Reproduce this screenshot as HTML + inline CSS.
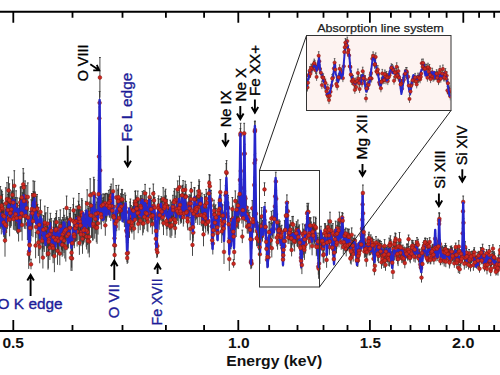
<!DOCTYPE html><html><head><meta charset="utf-8"><style>html,body{margin:0;padding:0;background:#fff;width:500px;height:375px;overflow:hidden}svg{display:block}</style></head><body><svg width="500" height="375" viewBox="0 0 500 375">
<rect width="500" height="375" fill="#fff"/>
<path d="M-1.0 190.4V221.3M-1.9 190.4h1.8M-0.6 199.9V221.4M-1.5 199.9h1.8M-0.3 200.5V228.4M-1.2 200.5h1.8M0.3 186.5V208.1M-0.6 186.5h1.8M0.7 205.4V228.8M-0.2 205.4h1.8M1.3 201.8V234.4M0.4 201.8h1.8M1.5 190.0V221.0M0.6 190.0h1.8M2.1 191.7V224.2M1.2 191.7h1.8M2.4 194.4V223.3M1.5 194.4h1.8M2.9 200.3V230.0M2.0 200.3h1.8M3.3 203.4V227.1M2.4 203.4h1.8M3.7 207.8V237.2M2.8 207.8h1.8M4.1 205.2V227.5M3.2 205.2h1.8M4.7 219.9V243.2M3.8 219.9h1.8M5.0 224.2V256.7M4.1 224.2h1.8M5.3 209.9V239.2M4.4 209.9h1.8M5.8 187.8V218.7M4.9 187.8h1.8M6.1 211.7V239.8M5.2 211.7h1.8M6.4 198.4V224.7M5.5 198.4h1.8M6.7 208.0V233.0M5.8 208.0h1.8M7.0 182.7V215.5M6.1 182.7h1.8M7.3 207.3V229.0M6.4 207.3h1.8M7.7 198.3V220.8M6.8 198.3h1.8M8.0 194.5V225.8M7.1 194.5h1.8M8.5 177.1V203.7M7.6 177.1h1.8M8.9 188.9V210.1M8.0 188.9h1.8M9.3 183.8V216.6M8.4 183.8h1.8M9.6 202.9V236.3M8.7 202.9h1.8M10.0 190.1V212.4M9.1 190.1h1.8M10.2 198.7V227.8M9.3 198.7h1.8M10.6 202.3V223.5M9.7 202.3h1.8M10.8 206.6V227.6M9.9 206.6h1.8M11.3 192.8V226.0M10.4 192.8h1.8M11.8 191.1V213.3M10.9 191.1h1.8M12.1 196.3V217.6M11.2 196.3h1.8M12.5 179.9V209.9M11.6 179.9h1.8M13.1 190.9V214.2M12.2 190.9h1.8M13.4 208.2V229.8M12.5 208.2h1.8M13.9 186.8V218.6M13.0 186.8h1.8M14.3 170.7V200.9M13.4 170.7h1.8M14.7 200.4V230.4M13.8 200.4h1.8M15.3 199.3V226.1M14.4 199.3h1.8M15.7 197.6V230.7M14.8 197.6h1.8M16.1 190.8V220.8M15.2 190.8h1.8M16.6 203.4V232.6M15.7 203.4h1.8M17.2 197.8V229.1M16.3 197.8h1.8M17.6 203.9V234.1M16.7 203.9h1.8M18.1 209.9V233.0M17.2 209.9h1.8M18.6 219.7V241.5M17.7 219.7h1.8M19.1 205.5V231.2M18.2 205.5h1.8M19.5 198.2V227.7M18.6 198.2h1.8M19.8 201.8V224.6M18.9 201.8h1.8M20.1 203.1V232.2M19.2 203.1h1.8M20.4 187.8V216.8M19.5 187.8h1.8M20.7 186.7V217.6M19.8 186.7h1.8M21.2 199.0V231.9M20.3 199.0h1.8M21.5 201.0V225.7M20.6 201.0h1.8M21.8 186.6V208.3M20.9 186.6h1.8M22.1 209.2V240.6M21.2 209.2h1.8M22.6 192.7V217.9M21.7 192.7h1.8M23.2 168.6V200.1M22.3 168.6h1.8M23.7 173.1V201.7M22.8 173.1h1.8M24.0 184.9V217.1M23.1 184.9h1.8M24.4 203.0V228.8M23.5 203.0h1.8M24.7 185.8V218.1M23.8 185.8h1.8M25.1 180.9V212.1M24.2 180.9h1.8M25.4 197.8V222.1M24.5 197.8h1.8M25.8 202.8V229.1M24.9 202.8h1.8M26.2 185.7V217.9M25.3 185.7h1.8M26.8 197.4V218.9M25.9 197.4h1.8M27.4 208.1V240.0M26.5 208.1h1.8M27.8 182.9V211.1M26.9 182.9h1.8M28.1 202.0V233.2M27.2 202.0h1.8M28.7 239.3V268.9M27.8 239.3h1.8M29.1 240.4V262.4M28.2 240.4h1.8M29.5 230.7V258.7M28.6 230.7h1.8M29.7 230.2V260.7M28.8 230.2h1.8M30.1 211.5V244.3M29.2 211.5h1.8M30.5 211.0V240.6M29.6 211.0h1.8M30.9 214.5V241.4M30.0 214.5h1.8M31.3 199.8V230.3M30.4 199.8h1.8M31.7 205.0V236.0M30.8 205.0h1.8M31.9 193.5V224.6M31.0 193.5h1.8M32.3 197.9V228.6M31.4 197.9h1.8M32.6 195.7V228.0M31.7 195.7h1.8M33.0 205.1V237.2M32.1 205.1h1.8M33.2 180.9V209.4M32.3 180.9h1.8M33.5 191.6V214.9M32.6 191.6h1.8M33.8 192.8V222.6M32.9 192.8h1.8M34.2 197.0V222.6M33.3 197.0h1.8M34.6 181.3V208.9M33.7 181.3h1.8M35.1 192.0V214.9M34.2 192.0h1.8M35.6 232.6V258.3M34.7 232.6h1.8M36.0 215.7V238.0M35.1 215.7h1.8M36.5 196.6V219.6M35.6 196.6h1.8M37.1 194.5V223.0M36.2 194.5h1.8M37.5 204.6V225.8M36.6 204.6h1.8M37.9 221.5V242.9M37.0 221.5h1.8M38.4 228.9V256.0M37.5 228.9h1.8M38.8 207.3V235.5M37.9 207.3h1.8M39.3 211.6V238.0M38.4 211.6h1.8M39.7 230.3V263.3M38.8 230.3h1.8M40.0 216.8V249.9M39.1 216.8h1.8M40.5 199.9V224.1M39.6 199.9h1.8M41.1 221.2V244.5M40.2 221.2h1.8M41.6 214.2V236.3M40.7 214.2h1.8M42.1 225.0V256.9M41.2 225.0h1.8M42.6 224.9V251.7M41.7 224.9h1.8M42.9 246.7V268.5M42.0 246.7h1.8M43.3 215.5V244.0M42.4 215.5h1.8M43.8 216.3V249.4M42.9 216.3h1.8M44.3 227.7V252.0M43.4 227.7h1.8M44.8 206.1V239.2M43.9 206.1h1.8M45.4 213.8V243.3M44.5 213.8h1.8M45.8 212.8V235.8M44.9 212.8h1.8M46.4 223.7V256.9M45.5 223.7h1.8M46.9 231.2V252.7M46.0 231.2h1.8M47.4 223.8V248.0M46.5 223.8h1.8M47.7 207.5V239.9M46.8 207.5h1.8M48.0 238.2V269.7M47.1 238.2h1.8M48.3 238.5V268.4M47.4 238.5h1.8M48.6 227.1V256.3M47.7 227.1h1.8M48.9 228.1V251.0M48.0 228.1h1.8M49.5 219.2V249.8M48.6 219.2h1.8M49.9 235.3V260.0M49.0 235.3h1.8M50.4 213.3V241.8M49.5 213.3h1.8M50.9 222.0V247.0M50.0 222.0h1.8M51.3 218.6V242.8M50.4 218.6h1.8M51.8 233.0V256.1M50.9 233.0h1.8M52.0 232.5V256.5M51.1 232.5h1.8M52.5 235.2V256.3M51.6 235.2h1.8M53.1 233.1V263.2M52.2 233.1h1.8M53.5 220.9V253.6M52.6 220.9h1.8M53.9 227.4V251.2M53.0 227.4h1.8M54.4 240.0V272.2M53.5 240.0h1.8M54.7 218.8V241.6M53.8 218.8h1.8M55.2 218.6V251.3M54.3 218.6h1.8M55.5 224.1V255.7M54.6 224.1h1.8M55.8 217.6V242.9M54.9 217.6h1.8M56.1 213.5V244.9M55.2 213.5h1.8M56.6 210.9V233.6M55.7 210.9h1.8M57.0 226.2V250.0M56.1 226.2h1.8M57.5 236.8V264.8M56.6 236.8h1.8M58.1 229.6V252.4M57.2 229.6h1.8M58.5 227.4V253.6M57.6 227.4h1.8M58.9 217.6V240.5M58.0 217.6h1.8M59.3 219.2V244.5M58.4 219.2h1.8M59.8 242.0V265.2M58.9 242.0h1.8M60.3 209.9V242.3M59.4 209.9h1.8M60.8 224.3V246.7M59.9 224.3h1.8M61.2 222.3V254.6M60.3 222.3h1.8M61.5 219.9V249.3M60.6 219.9h1.8M61.8 225.4V250.0M60.9 225.4h1.8M62.2 232.6V256.8M61.3 232.6h1.8M62.7 217.5V251.0M61.8 217.5h1.8M63.0 222.2V255.7M62.1 222.2h1.8M63.5 219.6V244.3M62.6 219.6h1.8M63.7 208.6V240.9M62.8 208.6h1.8M64.0 228.4V253.0M63.1 228.4h1.8M64.3 215.3V248.7M63.4 215.3h1.8M64.8 233.2V258.5M63.9 233.2h1.8M65.3 219.0V241.7M64.4 219.0h1.8M65.8 234.0V261.6M64.9 234.0h1.8M66.2 217.7V241.1M65.3 217.7h1.8M66.6 196.0V219.8M65.7 196.0h1.8M67.0 222.0V250.2M66.1 222.0h1.8M67.4 216.8V247.6M66.5 216.8h1.8M67.7 218.5V248.4M66.8 218.5h1.8M68.3 219.9V242.0M67.4 219.9h1.8M68.6 219.7V248.4M67.7 219.7h1.8M69.2 209.5V233.1M68.3 209.5h1.8M69.8 213.5V242.3M68.9 213.5h1.8M70.0 213.5V241.8M69.1 213.5h1.8M70.4 207.5V231.1M69.5 207.5h1.8M71.0 244.8V270.9M70.1 244.8h1.8M71.6 237.6V267.7M70.7 237.6h1.8M72.0 245.8V271.0M71.1 245.8h1.8M72.3 227.4V259.0M71.4 227.4h1.8M72.6 230.0V251.2M71.7 230.0h1.8M73.2 204.7V237.2M72.3 204.7h1.8M73.5 198.2V222.5M72.6 198.2h1.8M74.0 222.7V246.0M73.1 222.7h1.8M74.3 225.2V248.2M73.4 225.2h1.8M74.7 209.8V235.5M73.8 209.8h1.8M75.3 214.5V242.1M74.4 214.5h1.8M75.6 214.3V240.9M74.7 214.3h1.8M76.1 206.3V236.3M75.2 206.3h1.8M76.6 209.9V241.2M75.7 209.9h1.8M77.1 216.6V246.5M76.2 216.6h1.8M77.6 205.9V231.7M76.7 205.9h1.8M78.0 207.9V239.9M77.1 207.9h1.8M78.5 201.2V234.2M77.6 201.2h1.8M78.9 193.5V221.2M78.0 193.5h1.8M79.2 204.7V232.5M78.3 204.7h1.8M79.4 231.1V254.9M78.5 231.1h1.8M79.9 209.8V233.1M79.0 209.8h1.8M80.3 209.9V241.2M79.4 209.9h1.8M80.6 214.5V235.9M79.7 214.5h1.8M80.9 222.7V246.2M80.0 222.7h1.8M81.3 221.2V242.4M80.4 221.2h1.8M81.7 198.7V226.3M80.8 198.7h1.8M82.2 200.2V230.1M81.3 200.2h1.8M82.5 223.7V253.8M81.6 223.7h1.8M83.0 223.7V245.2M82.1 223.7h1.8M83.5 216.6V243.9M82.6 216.6h1.8M83.8 217.6V242.2M82.9 217.6h1.8M84.4 217.5V240.2M83.5 217.5h1.8M84.9 214.2V242.6M84.0 214.2h1.8M85.4 210.6V238.8M84.5 210.6h1.8M85.8 201.4V231.8M84.9 201.4h1.8M86.2 213.9V246.7M85.3 213.9h1.8M86.6 223.6V249.5M85.7 223.6h1.8M87.2 189.8V217.4M86.3 189.8h1.8M87.6 219.0V245.0M86.7 219.0h1.8M88.0 228.3V253.6M87.1 228.3h1.8M88.4 208.6V232.6M87.5 208.6h1.8M88.7 206.6V239.9M87.8 206.6h1.8M89.0 221.3V252.4M88.1 221.3h1.8M89.3 225.7V257.4M88.4 225.7h1.8M89.8 202.0V223.7M88.9 202.0h1.8M90.2 178.8V211.6M89.3 178.8h1.8M90.8 203.4V227.6M89.9 203.4h1.8M91.1 192.8V218.4M90.2 192.8h1.8M91.4 210.3V238.0M90.5 210.3h1.8M91.9 210.0V237.4M91.0 210.0h1.8M92.2 205.3V226.6M91.3 205.3h1.8M92.6 209.9V240.7M91.7 209.9h1.8M93.2 207.6V240.4M92.3 207.6h1.8M93.7 177.3V209.4M92.8 177.3h1.8M94.3 179.7V211.8M93.4 179.7h1.8M94.7 214.4V238.7M93.8 214.4h1.8M95.3 204.2V233.7M94.4 204.2h1.8M95.9 197.6V230.2M95.0 197.6h1.8M96.3 213.5V242.3M95.4 213.5h1.8M96.8 202.1V228.6M95.9 202.1h1.8M97.1 210.9V243.9M96.2 210.9h1.8M97.6 198.6V227.7M96.7 198.6h1.8M98.0 212.0V234.6M97.1 212.0h1.8M98.5 180.4V207.8M97.6 180.4h1.8M99.0 144.4V168.8M98.1 144.4h1.8M99.3 106.9V129.8M98.4 106.9h1.8M99.6 91.5V114.1M98.7 91.5h1.8M100.2 160.6V180.1M99.3 160.6h1.8M100.5 195.1V213.5M99.6 195.1h1.8M100.9 203.7V224.6M100.0 203.7h1.8M101.3 205.5V229.2M100.4 205.5h1.8M101.6 194.8V216.7M100.7 194.8h1.8M102.1 198.2V215.8M101.2 198.2h1.8M102.7 200.8V221.7M101.8 200.8h1.8M103.1 193.9V215.5M102.2 193.9h1.8M103.5 197.4V215.4M102.6 197.4h1.8M103.9 205.5V223.3M103.0 205.5h1.8M104.3 194.4V215.7M103.4 194.4h1.8M104.7 204.2V220.1M103.8 204.2h1.8M105.0 194.1V212.1M104.1 194.1h1.8M105.3 214.8V235.8M104.4 214.8h1.8M105.7 193.4V218.4M104.8 193.4h1.8M106.2 203.3V221.9M105.3 203.3h1.8M106.6 204.3V220.7M105.7 204.3h1.8M107.0 193.4V217.4M106.1 193.4h1.8M107.5 194.5V213.9M106.6 194.5h1.8M108.1 194.7V214.6M107.2 194.7h1.8M108.5 195.9V213.7M107.6 195.9h1.8M108.8 190.4V215.2M107.9 190.4h1.8M109.2 198.4V217.3M108.3 198.4h1.8M109.4 195.4V214.4M108.5 195.4h1.8M109.8 194.2V217.9M108.9 194.2h1.8M110.1 189.4V212.9M109.2 189.4h1.8M110.4 186.6V209.4M109.5 186.6h1.8M110.8 198.1V221.0M109.9 198.1h1.8M111.2 184.1V206.6M110.3 184.1h1.8M111.8 194.0V218.4M110.9 194.0h1.8M112.3 202.7V218.5M111.4 202.7h1.8M112.7 195.9V218.8M111.8 195.9h1.8M113.1 178.9V203.8M112.2 178.9h1.8M113.5 205.4V226.6M112.6 205.4h1.8M113.9 205.5V229.5M113.0 205.5h1.8M114.3 234.4V255.9M113.4 234.4h1.8M114.5 228.2V248.3M113.6 228.2h1.8M114.9 234.1V256.7M114.0 234.1h1.8M115.5 213.1V234.1M114.6 213.1h1.8M115.8 216.8V236.2M114.9 216.8h1.8M116.2 185.5V209.3M115.3 185.5h1.8M116.7 210.8V231.2M115.8 210.8h1.8M117.2 197.1V215.8M116.3 197.1h1.8M117.5 203.1V220.2M116.6 203.1h1.8M117.9 190.3V206.9M117.0 190.3h1.8M118.2 189.1V213.6M117.3 189.1h1.8M118.6 185.3V209.0M117.7 185.3h1.8M119.0 205.6V230.4M118.1 205.6h1.8M119.6 196.7V221.1M118.7 196.7h1.8M120.2 202.0V217.8M119.3 202.0h1.8M120.7 200.4V220.8M119.8 200.4h1.8M121.0 193.8V218.2M120.1 193.8h1.8M121.2 194.1V219.3M120.3 194.1h1.8M121.7 189.4V210.0M120.8 189.4h1.8M122.3 189.6V209.0M121.4 189.6h1.8M122.7 200.5V219.7M121.8 200.5h1.8M123.2 194.6V219.3M122.3 194.6h1.8M123.4 199.3V221.5M122.5 199.3h1.8M123.8 203.7V223.0M122.9 203.7h1.8M124.4 207.6V227.1M123.5 207.6h1.8M124.9 193.0V217.1M124.0 193.0h1.8M125.5 195.2V220.0M124.6 195.2h1.8M126.1 201.3V223.0M125.2 201.3h1.8M126.4 217.8V242.9M125.5 217.8h1.8M126.7 220.0V243.5M125.8 220.0h1.8M127.0 244.7V262.1M126.1 244.7h1.8M127.4 224.5V248.0M126.5 224.5h1.8M127.9 242.5V263.0M127.0 242.5h1.8M128.5 219.3V241.6M127.6 219.3h1.8M129.0 210.2V233.7M128.1 210.2h1.8M129.5 218.2V237.9M128.6 218.2h1.8M130.0 202.0V219.2M129.1 202.0h1.8M130.4 199.0V219.6M129.5 199.0h1.8M130.8 212.2V229.7M129.9 212.2h1.8M131.1 205.6V227.1M130.2 205.6h1.8M131.6 213.1V232.2M130.7 213.1h1.8M131.9 217.3V233.5M131.0 217.3h1.8M132.5 206.7V226.3M131.6 206.7h1.8M133.0 209.6V231.9M132.1 209.6h1.8M133.4 202.8V218.6M132.5 202.8h1.8M133.6 200.1V221.3M132.7 200.1h1.8M134.0 217.6V239.7M133.1 217.6h1.8M134.5 204.4V225.4M133.6 204.4h1.8M135.0 210.6V228.9M134.1 210.6h1.8M135.2 191.5V216.7M134.3 191.5h1.8M135.5 190.8V211.9M134.6 190.8h1.8M136.0 195.9V213.1M135.1 195.9h1.8M136.4 197.3V220.2M135.5 197.3h1.8M136.8 200.1V217.4M135.9 200.1h1.8M137.1 198.8V219.5M136.2 198.8h1.8M137.6 201.5V224.8M136.7 201.5h1.8M137.8 191.0V207.3M136.9 191.0h1.8M138.2 214.4V233.2M137.3 214.4h1.8M138.6 201.2V223.7M137.7 201.2h1.8M139.2 199.9V218.1M138.3 199.9h1.8M139.7 207.5V224.2M138.8 207.5h1.8M140.2 211.2V230.2M139.3 211.2h1.8M140.6 196.0V216.0M139.7 196.0h1.8M141.0 195.7V219.9M140.1 195.7h1.8M141.3 198.0V219.3M140.4 198.0h1.8M141.9 199.3V220.9M141.0 199.3h1.8M142.4 191.4V209.5M141.5 191.4h1.8M142.7 211.6V235.4M141.8 211.6h1.8M143.0 203.6V222.3M142.1 203.6h1.8M143.4 214.1V232.7M142.5 214.1h1.8M143.9 190.7V212.1M143.0 190.7h1.8M144.3 204.6V229.3M143.4 204.6h1.8M144.7 194.6V212.6M143.8 194.6h1.8M145.1 184.4V202.2M144.2 184.4h1.8M145.7 203.4V222.1M144.8 203.4h1.8M146.0 201.4V224.7M145.1 201.4h1.8M146.3 192.5V210.5M145.4 192.5h1.8M146.7 204.8V222.4M145.8 204.8h1.8M147.1 206.1V231.0M146.2 206.1h1.8M147.6 200.8V217.7M146.7 200.8h1.8M147.9 211.4V232.2M147.0 211.4h1.8M148.4 197.2V213.5M147.5 197.2h1.8M148.9 204.6V221.5M148.0 204.6h1.8M149.3 198.9V217.0M148.4 198.9h1.8M149.7 188.3V205.9M148.8 188.3h1.8M150.2 198.8V214.8M149.3 198.8h1.8M150.6 205.4V227.4M149.7 205.4h1.8M151.1 198.0V220.5M150.2 198.0h1.8M151.5 207.4V224.0M150.6 207.4h1.8M151.8 200.5V217.5M150.9 200.5h1.8M152.3 214.2V234.2M151.4 214.2h1.8M152.7 206.8V224.0M151.8 206.8h1.8M153.3 184.0V203.1M152.4 184.0h1.8M153.7 193.3V218.1M152.8 193.3h1.8M154.0 191.5V209.3M153.1 191.5h1.8M154.3 209.3V227.2M153.4 209.3h1.8M154.7 197.6V217.6M153.8 197.6h1.8M155.2 213.8V232.0M154.3 213.8h1.8M155.8 226.7V250.9M154.9 226.7h1.8M156.1 221.9V240.0M155.2 221.9h1.8M156.5 232.9V254.4M155.6 232.9h1.8M156.8 241.1V258.1M155.9 241.1h1.8M157.4 235.8V256.4M156.5 235.8h1.8M157.7 204.8V227.8M156.8 204.8h1.8M158.0 204.0V223.4M157.1 204.0h1.8M158.2 198.7V217.4M157.3 198.7h1.8M158.6 195.9V215.4M157.7 195.9h1.8M159.2 206.0V229.8M158.3 206.0h1.8M159.7 205.8V224.6M158.8 205.8h1.8M160.2 199.3V220.4M159.3 199.3h1.8M160.8 198.7V217.9M159.9 198.7h1.8M161.4 196.7V213.0M160.5 196.7h1.8M161.8 202.2V220.9M160.9 202.2h1.8M162.1 201.5V224.1M161.2 201.5h1.8M162.7 208.2V226.6M161.8 208.2h1.8M163.2 187.7V210.8M162.3 187.7h1.8M163.5 211.1V235.1M162.6 211.1h1.8M163.9 205.7V224.1M163.0 205.7h1.8M164.3 200.2V216.3M163.4 200.2h1.8M164.7 196.9V216.0M163.8 196.9h1.8M165.1 191.0V210.6M164.2 191.0h1.8M165.4 195.7V213.8M164.5 195.7h1.8M165.6 189.2V212.9M164.7 189.2h1.8M166.0 196.0V213.5M165.1 196.0h1.8M166.3 212.6V229.4M165.4 212.6h1.8M166.9 213.3V235.8M166.0 213.3h1.8M167.2 199.3V215.4M166.3 199.3h1.8M167.8 211.4V229.0M166.9 211.4h1.8M168.1 208.3V226.9M167.2 208.3h1.8M168.5 204.9V223.6M167.6 204.9h1.8M169.0 205.2V227.0M168.1 205.2h1.8M169.6 209.2V230.3M168.7 209.2h1.8M170.0 214.8V237.3M169.1 214.8h1.8M170.3 200.2V222.4M169.4 200.2h1.8M170.7 210.4V229.5M169.8 210.4h1.8M171.0 215.0V238.1M170.1 215.0h1.8M171.6 201.9V220.4M170.7 201.9h1.8M171.9 214.4V235.8M171.0 214.4h1.8M172.3 204.8V221.0M171.4 204.8h1.8M172.9 195.3V218.6M172.0 195.3h1.8M173.1 201.1V218.8M172.2 201.1h1.8M173.5 210.5V227.1M172.6 210.5h1.8M174.1 191.2V213.5M173.2 191.2h1.8M174.6 188.7V212.2M173.7 188.7h1.8M174.8 210.5V228.9M173.9 210.5h1.8M175.1 218.2V238.0M174.2 218.2h1.8M175.4 210.1V234.6M174.5 210.1h1.8M176.0 196.0V219.6M175.1 196.0h1.8M176.3 189.1V210.8M175.4 189.1h1.8M176.8 197.9V220.3M175.9 197.9h1.8M177.4 201.4V221.1M176.5 201.4h1.8M177.7 180.9V197.8M176.8 180.9h1.8M178.1 192.2V215.1M177.2 192.2h1.8M178.7 201.5V224.9M177.8 201.5h1.8M179.1 199.0V217.2M178.2 199.0h1.8M179.5 176.2V198.0M178.6 176.2h1.8M180.0 194.6V215.5M179.1 194.6h1.8M180.3 201.6V220.8M179.4 201.6h1.8M180.7 204.2V223.8M179.8 204.2h1.8M180.9 204.7V221.8M180.0 204.7h1.8M181.5 200.4V222.9M180.6 200.4h1.8M182.0 186.3V204.3M181.1 186.3h1.8M182.5 185.3V205.9M181.6 185.3h1.8M183.1 180.6V199.7M182.2 180.6h1.8M183.3 208.0V226.6M182.4 208.0h1.8M183.7 202.8V223.9M182.8 202.8h1.8M184.1 194.2V213.1M183.2 194.2h1.8M184.7 194.1V217.1M183.8 194.1h1.8M185.2 181.2V198.5M184.3 181.2h1.8M185.6 186.9V207.0M184.7 186.9h1.8M186.0 184.8V207.8M185.1 184.8h1.8M186.4 203.4V221.9M185.5 203.4h1.8M186.8 202.0V221.2M185.9 202.0h1.8M187.4 209.1V227.5M186.5 209.1h1.8M187.7 212.7V230.3M186.8 212.7h1.8M188.2 205.5V222.3M187.3 205.5h1.8M188.7 196.6V215.4M187.8 196.6h1.8M189.3 194.8V212.1M188.4 194.8h1.8M189.8 200.1V216.5M188.9 200.1h1.8M190.2 217.5V240.3M189.3 217.5h1.8M190.6 195.3V211.8M189.7 195.3h1.8M191.0 188.6V209.7M190.1 188.6h1.8M191.3 182.3V199.1M190.4 182.3h1.8M191.9 202.0V219.6M191.0 202.0h1.8M192.1 213.0V233.9M191.2 213.0h1.8M192.5 234.0V255.9M191.6 234.0h1.8M193.0 216.4V238.1M192.1 216.4h1.8M193.3 223.5V241.6M192.4 223.5h1.8M193.6 204.6V222.7M192.7 204.6h1.8M193.9 204.5V227.6M193.0 204.5h1.8M194.3 187.6V211.3M193.4 187.6h1.8M194.7 187.8V209.6M193.8 187.8h1.8M195.3 196.7V220.5M194.4 196.7h1.8M195.8 199.8V223.0M194.9 199.8h1.8M196.4 195.8V219.4M195.5 195.8h1.8M196.8 200.6V218.1M195.9 200.6h1.8M197.0 190.7V214.3M196.1 190.7h1.8M197.3 195.8V216.7M196.4 195.8h1.8M197.7 205.7V224.9M196.8 205.7h1.8M198.2 199.2V215.3M197.3 199.2h1.8M198.6 185.5V206.6M197.7 185.5h1.8M199.0 179.9V202.3M198.1 179.9h1.8M199.4 181.5V205.8M198.5 181.5h1.8M199.8 204.5V225.0M198.9 204.5h1.8M200.3 195.2V212.4M199.4 195.2h1.8M200.8 196.6V213.1M199.9 196.6h1.8M201.4 204.1V226.3M200.5 204.1h1.8M201.9 193.1V218.0M201.0 193.1h1.8M202.2 197.8V214.4M201.3 197.8h1.8M202.7 213.4V231.0M201.8 213.4h1.8M203.1 207.8V230.4M202.2 207.8h1.8M203.5 222.5V246.3M202.6 222.5h1.8M203.9 204.5V227.7M203.0 204.5h1.8M204.4 194.6V216.6M203.5 194.6h1.8M204.7 203.9V224.5M203.8 203.9h1.8M205.0 196.6V216.5M204.1 196.6h1.8M205.4 207.0V229.1M204.5 207.0h1.8M205.7 215.4V232.7M204.8 215.4h1.8M206.2 189.4V208.0M205.3 189.4h1.8M206.7 193.4V212.5M205.8 193.4h1.8M207.1 207.8V225.4M206.2 207.8h1.8M207.5 211.1V231.2M206.6 211.1h1.8M208.1 209.7V234.6M207.2 209.7h1.8M208.5 208.4V233.4M207.6 208.4h1.8M208.8 181.0V205.9M207.9 181.0h1.8M209.3 174.7V191.1M208.4 174.7h1.8M209.8 175.1V197.3M208.9 175.1h1.8M210.4 190.2V211.3M209.5 190.2h1.8M210.7 193.3V218.1M209.8 193.3h1.8M211.1 190.4V209.0M210.2 190.4h1.8M211.7 216.8V235.8M210.8 216.8h1.8M212.2 231.5V249.0M211.3 231.5h1.8M212.8 232.3V254.5M211.9 232.3h1.8M213.0 223.8V245.8M212.1 223.8h1.8M213.4 220.5V239.8M212.5 220.5h1.8M213.7 204.1V224.8M212.8 204.1h1.8M214.0 200.2V221.3M213.1 200.2h1.8M214.6 206.0V223.5M213.7 206.0h1.8M215.0 210.6V234.8M214.1 210.6h1.8M215.6 204.9V228.8M214.7 204.9h1.8M216.0 208.4V226.6M215.1 208.4h1.8M216.5 215.0V233.1M215.6 215.0h1.8M217.0 220.1V240.4M216.1 220.1h1.8M217.3 216.8V238.0M216.4 216.8h1.8M217.8 224.5V241.3M216.9 224.5h1.8M218.4 202.3V218.8M217.5 202.3h1.8M218.7 203.8V223.4M217.8 203.8h1.8M219.1 203.2V227.1M218.2 203.2h1.8M219.6 198.2V219.2M218.7 198.2h1.8M219.9 191.8V208.6M219.0 191.8h1.8M220.3 179.6V204.7M219.4 179.6h1.8M220.6 194.5V218.1M219.7 194.5h1.8M220.9 195.4V214.9M220.0 195.4h1.8M221.3 210.1V231.2M220.4 210.1h1.8M221.7 219.9V243.0M220.8 219.9h1.8M222.2 215.8V232.1M221.3 215.8h1.8M222.5 217.3V235.3M221.6 217.3h1.8M222.8 204.9V226.3M221.9 204.9h1.8M223.2 212.7V230.5M222.3 212.7h1.8M223.6 218.6V238.4M222.7 218.6h1.8M224.0 239.8V264.0M223.1 239.8h1.8M224.3 211.0V232.1M223.4 211.0h1.8M224.6 202.2V226.6M223.7 202.2h1.8M225.2 202.2V225.0M224.3 202.2h1.8M225.6 185.7V204.7M224.7 185.7h1.8M225.9 180.8V204.4M225.0 180.8h1.8M226.2 163.6V180.5M225.3 163.6h1.8M226.6 160.6V185.3M225.7 160.6h1.8M227.0 191.7V214.3M226.1 191.7h1.8M227.5 208.1V224.8M226.6 208.1h1.8M227.8 197.5V218.5M226.9 197.5h1.8M228.1 195.4V219.9M227.2 195.4h1.8M228.6 213.1V235.2M227.7 213.1h1.8M228.9 231.5V251.5M228.0 231.5h1.8M229.3 247.3V270.9M228.4 247.3h1.8M229.7 230.2V246.2M228.8 230.2h1.8M230.2 218.4V235.2M229.3 218.4h1.8M230.6 228.0V249.0M229.7 228.0h1.8M231.0 230.9V249.4M230.1 230.9h1.8M231.4 224.9V242.0M230.5 224.9h1.8M231.8 208.3V232.3M230.9 208.3h1.8M232.4 197.5V220.8M231.5 197.5h1.8M233.0 206.1V230.8M232.1 206.1h1.8M233.3 223.1V240.3M232.4 223.1h1.8M233.7 226.3V246.8M232.8 226.3h1.8M234.2 243.9V260.0M233.3 243.9h1.8M234.5 211.4V228.8M233.6 211.4h1.8M234.7 216.6V236.1M233.8 216.6h1.8M235.3 190.9V211.1M234.4 190.9h1.8M235.7 210.7V230.2M234.8 210.7h1.8M236.2 213.0V237.0M235.3 213.0h1.8M236.6 200.1V219.0M235.7 200.1h1.8M237.2 201.1V218.9M236.3 201.1h1.8M237.6 212.3V228.5M236.7 212.3h1.8M237.9 196.7V214.1M237.0 196.7h1.8M238.2 195.8V217.0M237.3 195.8h1.8M238.6 209.7V229.1M237.7 209.7h1.8M239.1 201.8V223.0M238.2 201.8h1.8M239.7 184.5V203.5M238.8 184.5h1.8M239.9 167.4V192.4M239.0 167.4h1.8M240.4 128.6V141.7M239.5 128.6h1.8M240.8 163.6V178.4M239.9 163.6h1.8M241.2 200.1V214.9M240.3 200.1h1.8M241.5 200.9V218.0M240.6 200.9h1.8M241.9 206.8V223.6M241.0 206.8h1.8M242.3 230.1V243.1M241.4 230.1h1.8M242.9 201.7V218.7M242.0 201.7h1.8M243.2 208.8V227.5M242.3 208.8h1.8M243.6 179.3V196.9M242.7 179.3h1.8M244.1 146.6V161.5M243.2 146.6h1.8M244.7 144.2V163.1M243.8 144.2h1.8M245.0 188.0V206.0M244.1 188.0h1.8M245.3 191.0V206.0M244.4 191.0h1.8M245.9 211.2V227.9M245.0 211.2h1.8M246.5 198.8V216.4M245.6 198.8h1.8M246.9 206.3V222.1M246.0 206.3h1.8M247.2 220.2V233.4M246.3 220.2h1.8M247.7 206.7V227.1M246.8 206.7h1.8M248.1 217.5V233.9M247.2 217.5h1.8M248.7 210.1V224.7M247.8 210.1h1.8M249.2 217.5V232.9M248.3 217.5h1.8M249.7 212.6V232.0M248.8 212.6h1.8M250.0 221.7V237.9M249.1 221.7h1.8M250.5 231.7V246.7M249.6 231.7h1.8M250.9 255.1V269.2M250.0 255.1h1.8M251.2 253.3V268.5M250.3 253.3h1.8M251.8 230.4V248.7M250.9 230.4h1.8M252.3 200.6V216.0M251.4 200.6h1.8M252.7 209.1V228.9M251.8 209.1h1.8M253.0 214.9V229.1M252.1 214.9h1.8M253.4 214.8V232.0M252.5 214.8h1.8M253.8 214.3V233.0M252.9 214.3h1.8M254.2 177.0V193.0M253.3 177.0h1.8M254.5 154.9V171.3M253.6 154.9h1.8M254.8 121.6V141.3M253.9 121.6h1.8M255.3 153.4V166.3M254.4 153.4h1.8M255.9 206.7V220.7M255.0 206.7h1.8M256.1 218.7V233.1M255.2 218.7h1.8M256.6 230.4V246.3M255.7 230.4h1.8M257.1 221.2V240.5M256.2 221.2h1.8M257.4 228.3V246.0M256.5 228.3h1.8M257.9 222.3V242.4M257.0 222.3h1.8M258.2 230.9V248.3M257.3 230.9h1.8M258.7 230.7V250.1M257.8 230.7h1.8M259.1 233.7V249.1M258.2 233.7h1.8M259.6 238.7V255.6M258.7 238.7h1.8M259.9 244.5V263.9M259.0 244.5h1.8M260.3 228.8V243.2M259.4 228.8h1.8M260.8 218.5V233.7M259.9 218.5h1.8M261.2 223.7V239.5M260.3 223.7h1.8M261.7 207.5V225.4M260.8 207.5h1.8M262.1 222.2V238.1M261.2 222.2h1.8M262.5 228.4V241.5M261.6 228.4h1.8M262.7 220.5V237.1M261.8 220.5h1.8M263.2 220.7V238.0M262.3 220.7h1.8M263.6 216.5V229.4M262.7 216.5h1.8M264.0 214.3V234.1M263.1 214.3h1.8M264.5 182.8V196.0M263.6 182.8h1.8M265.0 202.5V220.0M264.1 202.5h1.8M265.4 220.2V233.7M264.5 220.2h1.8M265.7 219.9V233.9M264.8 219.9h1.8M266.1 235.1V248.5M265.2 235.1h1.8M266.4 239.4V258.3M265.5 239.4h1.8M266.7 230.0V247.3M265.8 230.0h1.8M267.1 251.2V268.2M266.2 251.2h1.8M267.4 249.4V264.7M266.5 249.4h1.8M267.8 245.2V263.6M266.9 245.2h1.8M268.2 242.6V261.1M267.3 242.6h1.8M268.5 247.9V266.6M267.6 247.9h1.8M269.0 222.1V242.4M268.1 222.1h1.8M269.2 238.5V254.8M268.3 238.5h1.8M269.8 221.8V241.7M268.9 221.8h1.8M270.3 233.7V247.5M269.4 233.7h1.8M270.7 231.3V249.1M269.8 231.3h1.8M271.0 223.4V242.0M270.1 223.4h1.8M271.4 211.3V225.8M270.5 211.3h1.8M271.8 238.9V257.5M270.9 238.9h1.8M272.4 224.2V237.9M271.5 224.2h1.8M272.7 222.7V235.9M271.8 222.7h1.8M273.2 210.4V224.6M272.3 210.4h1.8M273.8 218.9V238.8M272.9 218.9h1.8M274.3 211.9V226.0M273.4 211.9h1.8M274.9 197.2V215.6M274.0 197.2h1.8M275.2 189.8V202.8M274.3 189.8h1.8M275.8 172.2V190.9M274.9 172.2h1.8M276.2 190.5V207.1M275.3 190.5h1.8M276.8 228.8V246.4M275.9 228.8h1.8M277.3 214.1V230.4M276.4 214.1h1.8M277.6 234.4V249.7M276.7 234.4h1.8M278.2 226.0V244.4M277.3 226.0h1.8M278.7 224.2V237.4M277.8 224.2h1.8M279.0 219.9V239.2M278.1 219.9h1.8M279.4 223.2V236.4M278.5 223.2h1.8M279.9 221.1V240.9M279.0 221.1h1.8M280.2 226.1V246.0M279.3 226.1h1.8M280.8 229.9V244.6M279.9 229.9h1.8M281.1 228.4V243.1M280.2 228.4h1.8M281.7 225.3V239.6M280.8 225.3h1.8M282.0 235.3V253.8M281.1 235.3h1.8M282.4 237.9V258.2M281.5 237.9h1.8M283.0 252.3V266.7M282.1 252.3h1.8M283.3 245.5V264.9M282.4 245.5h1.8M283.6 240.1V259.5M282.7 240.1h1.8M284.1 231.5V250.5M283.2 231.5h1.8M284.4 238.6V253.6M283.5 238.6h1.8M284.7 220.6V240.2M283.8 220.6h1.8M285.0 234.1V248.1M284.1 234.1h1.8M285.3 221.8V238.0M284.4 221.8h1.8M285.9 206.9V224.1M285.0 206.9h1.8M286.4 206.8V226.3M285.5 206.8h1.8M286.9 194.9V210.4M286.0 194.9h1.8M287.2 208.4V222.6M286.3 208.4h1.8M287.8 201.5V220.8M286.9 201.5h1.8M288.0 230.9V243.9M287.1 230.9h1.8M288.5 226.7V240.3M287.6 226.7h1.8M289.0 224.3V244.1M288.1 224.3h1.8M289.3 225.8V239.7M288.4 225.8h1.8M289.9 225.4V239.5M289.0 225.4h1.8M290.3 220.6V238.6M289.4 220.6h1.8M290.8 228.8V248.6M289.9 228.8h1.8M291.3 229.1V247.3M290.4 229.1h1.8M291.6 243.4V256.4M290.7 243.4h1.8M292.2 216.6V231.2M291.3 216.6h1.8M292.7 232.3V245.4M291.8 232.3h1.8M293.1 216.4V233.0M292.2 216.4h1.8M293.6 227.8V241.3M292.7 227.8h1.8M294.0 234.5V247.4M293.1 234.5h1.8M294.6 232.0V251.5M293.7 232.0h1.8M295.0 230.1V243.8M294.1 230.1h1.8M295.4 226.2V242.3M294.5 226.2h1.8M295.9 229.4V243.6M295.0 229.4h1.8M296.3 224.0V242.4M295.4 224.0h1.8M296.6 221.7V238.3M295.7 221.7h1.8M297.1 229.6V246.2M296.2 229.6h1.8M297.4 227.3V247.1M296.5 227.3h1.8M297.9 220.0V240.2M297.0 220.0h1.8M298.3 227.2V246.7M297.4 227.2h1.8M298.7 226.2V240.3M297.8 226.2h1.8M299.3 224.9V239.6M298.4 224.9h1.8M299.8 234.4V251.0M298.9 234.4h1.8M300.3 239.0V254.9M299.4 239.0h1.8M300.6 241.6V254.4M299.7 241.6h1.8M300.9 248.6V266.6M300.0 248.6h1.8M301.1 252.3V269.3M300.2 252.3h1.8M301.5 245.1V263.1M300.6 245.1h1.8M301.9 255.9V274.1M301.0 255.9h1.8M302.3 232.3V248.1M301.4 232.3h1.8M302.7 223.9V244.1M301.8 223.9h1.8M303.3 238.7V254.4M302.4 238.7h1.8M303.6 229.1V243.0M302.7 229.1h1.8M303.9 237.3V257.7M303.0 237.3h1.8M304.4 240.0V259.9M303.5 240.0h1.8M304.7 232.1V246.7M303.8 232.1h1.8M304.9 225.3V239.9M304.0 225.3h1.8M305.3 224.4V238.7M304.4 224.4h1.8M305.6 235.0V253.7M304.7 235.0h1.8M306.0 228.7V248.4M305.1 228.7h1.8M306.3 229.2V244.4M305.4 229.2h1.8M306.7 216.8V234.5M305.8 216.8h1.8M307.2 203.4V223.6M306.3 203.4h1.8M307.5 206.0V218.8M306.6 206.0h1.8M308.0 210.4V227.1M307.1 210.4h1.8M308.4 203.3V220.6M307.5 203.3h1.8M308.7 226.7V244.2M307.8 226.7h1.8M309.3 224.1V242.5M308.4 224.1h1.8M309.6 217.6V233.4M308.7 217.6h1.8M309.9 232.7V249.5M309.0 232.7h1.8M310.2 217.9V233.1M309.3 217.9h1.8M310.7 217.9V235.5M309.8 217.9h1.8M311.2 222.0V239.5M310.3 222.0h1.8M311.8 229.2V243.9M310.9 229.2h1.8M312.1 237.0V255.3M311.2 237.0h1.8M312.5 225.3V242.0M311.6 225.3h1.8M312.7 225.1V238.9M311.8 225.1h1.8M313.2 225.6V245.4M312.3 225.6h1.8M313.7 216.9V233.7M312.8 216.9h1.8M314.0 222.7V241.7M313.1 222.7h1.8M314.5 224.5V243.6M313.6 224.5h1.8M314.9 229.9V246.2M314.0 229.9h1.8M315.5 217.1V236.6M314.6 217.1h1.8M316.0 218.3V237.7M315.1 218.3h1.8M316.3 237.1V256.2M315.4 237.1h1.8M316.9 235.7V254.7M316.0 235.7h1.8M317.2 239.7V254.4M316.3 239.7h1.8M317.6 237.7V251.3M316.7 237.7h1.8M318.0 233.1V249.8M317.1 233.1h1.8M318.3 258.4V274.7M317.4 258.4h1.8M318.6 258.4V278.8M317.7 258.4h1.8M319.1 254.5V272.6M318.2 254.5h1.8M319.4 237.2V256.1M318.5 237.2h1.8M319.8 237.7V256.3M318.9 237.7h1.8M320.4 231.7V247.2M319.5 231.7h1.8M320.7 233.3V250.0M319.8 233.3h1.8M321.0 226.3V241.7M320.1 226.3h1.8M321.5 233.6V249.3M320.6 233.6h1.8M321.9 233.7V250.8M321.0 233.7h1.8M322.4 234.3V247.5M321.5 234.3h1.8M322.9 241.0V255.8M322.0 241.0h1.8M323.2 247.5V262.7M322.3 247.5h1.8M323.6 237.1V250.5M322.7 237.1h1.8M323.9 245.7V263.3M323.0 245.7h1.8M324.2 234.7V250.7M323.3 234.7h1.8M324.8 223.7V242.5M323.9 223.7h1.8M325.3 223.8V236.9M324.4 223.8h1.8M325.8 226.0V242.2M324.9 226.0h1.8M326.0 227.9V242.9M325.1 227.9h1.8M326.6 251.9V267.8M325.7 251.9h1.8M327.1 234.8V250.2M326.2 234.8h1.8M327.5 225.8V241.5M326.6 225.8h1.8M328.0 220.0V234.2M327.1 220.0h1.8M328.4 221.2V241.4M327.5 221.2h1.8M328.8 226.5V244.4M327.9 226.5h1.8M329.1 222.1V237.3M328.2 222.1h1.8M329.4 239.1V254.8M328.5 239.1h1.8M329.6 233.1V249.9M328.7 233.1h1.8M330.0 212.2V230.7M329.1 212.2h1.8M330.5 230.5V243.4M329.6 230.5h1.8M331.0 222.3V238.6M330.1 222.3h1.8M331.6 225.7V244.9M330.7 225.7h1.8M332.1 225.4V244.9M331.2 225.4h1.8M332.4 239.5V255.6M331.5 239.5h1.8M332.9 223.7V242.7M332.0 223.7h1.8M333.3 240.2V258.1M332.4 240.2h1.8M333.8 252.6V265.6M332.9 252.6h1.8M334.2 243.6V261.5M333.3 243.6h1.8M334.6 232.1V250.7M333.7 232.1h1.8M335.0 232.4V246.0M334.1 232.4h1.8M335.6 221.1V240.1M334.7 221.1h1.8M335.9 227.6V241.1M335.0 227.6h1.8M336.5 236.3V253.3M335.6 236.3h1.8M336.8 235.9V249.1M335.9 235.9h1.8M337.1 225.4V241.9M336.2 225.4h1.8M337.4 221.8V234.9M336.5 221.8h1.8M337.9 227.2V244.5M337.0 227.2h1.8M338.5 220.4V240.8M337.6 220.4h1.8M339.0 233.5V247.4M338.1 233.5h1.8M339.4 212.1V227.4M338.5 212.1h1.8M340.0 219.4V239.7M339.1 219.4h1.8M340.3 226.7V238.0M339.4 226.7h1.8M340.7 228.3V239.6M339.8 228.3h1.8M341.2 235.0V249.7M340.3 235.0h1.8M341.7 216.0V228.2M340.8 216.0h1.8M342.2 212.6V222.6M341.3 212.6h1.8M342.7 213.4V227.9M341.8 213.4h1.8M343.3 239.6V254.4M342.4 239.6h1.8M343.7 237.1V247.1M342.8 237.1h1.8M344.2 238.3V251.2M343.3 238.3h1.8M344.7 229.4V242.0M343.8 229.4h1.8M345.3 238.7V251.9M344.4 238.7h1.8M345.7 228.0V239.0M344.8 228.0h1.8M346.2 241.3V256.4M345.3 241.3h1.8M346.6 233.3V244.9M345.7 233.3h1.8M347.0 233.9V246.8M346.1 233.9h1.8M347.3 228.8V240.5M346.4 228.8h1.8M347.8 239.8V251.2M346.9 239.8h1.8M348.0 235.9V249.8M347.1 235.9h1.8M348.6 229.6V244.0M347.7 229.6h1.8M348.9 229.1V244.3M348.0 229.1h1.8M349.2 233.3V245.6M348.3 233.3h1.8M349.5 239.3V251.6M348.6 239.3h1.8M350.0 237.7V251.2M349.1 237.7h1.8M350.4 253.4V263.6M349.5 253.4h1.8M350.7 243.5V256.7M349.8 243.5h1.8M351.0 245.0V258.0M350.1 245.0h1.8M351.2 250.1V264.6M350.3 250.1h1.8M351.7 227.9V241.6M350.8 227.9h1.8M352.2 237.0V248.5M351.3 237.0h1.8M352.7 240.3V250.9M351.8 240.3h1.8M353.2 246.5V261.6M352.3 246.5h1.8M353.5 238.5V248.8M352.6 238.5h1.8M353.9 238.2V252.5M353.0 238.2h1.8M354.3 241.6V255.2M353.4 241.6h1.8M354.8 235.2V246.5M353.9 235.2h1.8M355.4 245.6V256.2M354.5 245.6h1.8M355.9 239.9V250.0M355.0 239.9h1.8M356.2 246.0V260.7M355.3 246.0h1.8M356.8 254.4V265.9M355.9 254.4h1.8M357.3 255.4V267.0M356.4 255.4h1.8M357.9 253.7V266.7M357.0 253.7h1.8M358.2 250.2V261.8M357.3 250.2h1.8M358.5 248.1V262.8M357.6 248.1h1.8M358.8 243.1V258.6M357.9 243.1h1.8M359.1 247.5V259.5M358.2 247.5h1.8M359.6 243.9V257.4M358.7 243.9h1.8M360.2 240.7V251.8M359.3 240.7h1.8M360.6 236.4V248.8M359.7 236.4h1.8M361.2 237.5V251.5M360.3 237.5h1.8M361.6 229.8V240.2M360.7 229.8h1.8M362.0 221.4V236.0M361.1 221.4h1.8M362.3 211.9V227.5M361.4 211.9h1.8M362.6 196.8V212.0M361.7 196.8h1.8M363.1 207.4V219.2M362.2 207.4h1.8M363.4 227.4V241.5M362.5 227.4h1.8M363.8 227.0V237.3M362.9 227.0h1.8M364.2 240.0V252.6M363.3 240.0h1.8M364.4 245.0V257.9M363.5 245.0h1.8M364.8 234.9V245.2M363.9 234.9h1.8M365.1 241.8V256.8M364.2 241.8h1.8M365.6 242.7V257.4M364.7 242.7h1.8M366.0 243.5V253.4M365.1 243.5h1.8M366.3 253.5V266.7M365.4 253.5h1.8M366.9 244.5V259.8M366.0 244.5h1.8M367.4 238.1V251.7M366.5 238.1h1.8M367.9 243.0V255.4M367.0 243.0h1.8M368.4 238.5V249.7M367.5 238.5h1.8M368.6 234.1V248.5M367.7 234.1h1.8M369.0 232.2V243.7M368.1 232.2h1.8M369.4 245.2V255.5M368.5 245.2h1.8M370.0 242.2V255.2M369.1 242.2h1.8M370.3 242.6V255.1M369.4 242.6h1.8M370.8 234.9V244.8M369.9 234.9h1.8M371.3 238.3V251.9M370.4 238.3h1.8M371.6 242.4V252.9M370.7 242.4h1.8M372.1 237.1V249.0M371.2 237.1h1.8M372.4 238.5V252.1M371.5 238.5h1.8M373.0 242.2V257.4M372.1 242.2h1.8M373.3 247.1V258.8M372.4 247.1h1.8M373.5 252.6V265.1M372.6 252.6h1.8M373.8 239.6V250.2M372.9 239.6h1.8M374.4 264.8V275.3M373.5 264.8h1.8M374.9 259.5V272.1M374.0 259.5h1.8M375.2 247.6V260.1M374.3 247.6h1.8M375.6 247.1V257.8M374.7 247.1h1.8M376.0 236.6V248.5M375.1 236.6h1.8M376.6 241.9V252.8M375.7 241.9h1.8M376.9 240.3V250.8M376.0 240.3h1.8M377.3 245.6V256.8M376.4 245.6h1.8M377.7 246.4V261.3M376.8 246.4h1.8M378.2 239.2V249.0M377.3 239.2h1.8M378.6 248.7V263.1M377.7 248.7h1.8M379.1 240.7V253.7M378.2 240.7h1.8M379.5 241.0V255.1M378.6 241.0h1.8M379.8 240.3V251.0M378.9 240.3h1.8M380.3 243.5V255.5M379.4 243.5h1.8M380.7 244.9V257.6M379.8 244.9h1.8M381.0 241.5V251.7M380.1 241.5h1.8M381.5 255.7V268.8M380.6 255.7h1.8M381.8 243.8V258.1M380.9 243.8h1.8M382.3 251.8V265.7M381.4 251.8h1.8M382.8 249.2V262.4M381.9 249.2h1.8M383.3 246.5V262.0M382.4 246.5h1.8M383.8 254.2V268.0M382.9 254.2h1.8M384.2 247.3V261.8M383.3 247.3h1.8M384.6 239.6V252.1M383.7 239.6h1.8M384.9 252.8V268.0M384.0 252.8h1.8M385.5 258.7V270.8M384.6 258.7h1.8M385.8 245.5V257.6M384.9 245.5h1.8M386.3 248.2V262.2M385.4 248.2h1.8M386.6 247.2V260.9M385.7 247.2h1.8M386.9 250.1V260.6M386.0 250.1h1.8M387.3 251.6V262.5M386.4 251.6h1.8M387.8 246.6V262.1M386.9 246.6h1.8M388.3 250.5V266.1M387.4 250.5h1.8M388.6 248.0V260.6M387.7 248.0h1.8M389.2 238.1V252.4M388.3 238.1h1.8M389.5 253.2V266.6M388.6 253.2h1.8M389.9 240.1V251.0M389.0 240.1h1.8M390.4 235.8V250.1M389.5 235.8h1.8M390.9 239.9V250.2M390.0 239.9h1.8M391.4 252.6V263.3M390.5 252.6h1.8M391.9 251.3V266.7M391.0 251.3h1.8M392.3 257.5V268.0M391.4 257.5h1.8M392.6 247.2V261.8M391.7 247.2h1.8M392.9 264.9V279.0M392.0 264.9h1.8M393.5 241.6V256.2M392.6 241.6h1.8M394.0 247.8V260.1M393.1 247.8h1.8M394.5 236.9V251.5M393.6 236.9h1.8M394.8 249.0V260.5M393.9 249.0h1.8M395.2 233.0V248.4M394.3 233.0h1.8M395.7 233.7V244.1M394.8 233.7h1.8M396.1 242.3V257.7M395.2 242.3h1.8M396.4 246.3V261.0M395.5 246.3h1.8M396.9 242.2V253.3M396.0 242.2h1.8M397.4 248.3V259.4M396.5 248.3h1.8M397.7 251.7V264.3M396.8 251.7h1.8M398.1 252.2V266.1M397.2 252.2h1.8M398.4 240.3V252.3M397.5 240.3h1.8M398.9 246.3V260.1M398.0 246.3h1.8M399.5 232.5V247.8M398.6 232.5h1.8M399.8 248.0V258.3M398.9 248.0h1.8M400.1 241.2V251.6M399.2 241.2h1.8M400.4 247.8V258.0M399.5 247.8h1.8M400.8 242.0V253.2M399.9 242.0h1.8M401.2 246.8V256.5M400.3 246.8h1.8M401.5 247.6V255.2M400.6 247.6h1.8M401.9 253.7V263.1M401.0 253.7h1.8M402.2 252.4V262.6M401.3 252.4h1.8M402.8 245.1V253.6M401.9 245.1h1.8M403.3 250.9V260.0M402.4 250.9h1.8M403.6 254.1V262.9M402.7 254.1h1.8M404.2 247.1V255.0M403.3 247.1h1.8M404.4 251.2V260.7M403.5 251.2h1.8M404.8 257.8V268.3M403.9 257.8h1.8M405.4 250.4V261.0M404.5 250.4h1.8M406.0 247.8V255.5M405.1 247.8h1.8M406.5 249.6V258.4M405.6 249.6h1.8M406.9 243.9V255.8M406.0 243.9h1.8M407.2 244.6V256.1M406.3 244.6h1.8M407.7 249.7V259.9M406.8 249.7h1.8M407.9 251.1V260.8M407.0 251.1h1.8M408.3 243.8V255.6M407.4 243.8h1.8M408.6 235.0V243.3M407.7 235.0h1.8M408.9 246.5V257.7M408.0 246.5h1.8M409.3 252.0V259.5M408.4 252.0h1.8M409.8 253.5V261.8M408.9 253.5h1.8M410.3 252.1V263.3M409.4 252.1h1.8M410.7 247.1V255.7M409.8 247.1h1.8M411.2 246.9V256.9M410.3 246.9h1.8M411.6 248.0V259.4M410.7 248.0h1.8M411.9 240.3V252.0M411.0 240.3h1.8M412.4 242.0V253.6M411.5 242.0h1.8M412.8 240.5V250.8M411.9 240.5h1.8M413.3 243.0V252.5M412.4 243.0h1.8M413.9 251.2V261.7M413.0 251.2h1.8M414.3 247.1V257.5M413.4 247.1h1.8M414.7 244.3V254.9M413.8 244.3h1.8M415.2 251.1V262.6M414.3 251.1h1.8M415.6 240.6V252.5M414.7 240.6h1.8M416.0 245.3V253.0M415.1 245.3h1.8M416.5 244.8V254.9M415.6 244.8h1.8M417.0 237.6V247.1M416.1 237.6h1.8M417.5 246.0V256.7M416.6 246.0h1.8M418.0 239.3V250.2M417.1 239.3h1.8M418.6 254.5V262.6M417.7 254.5h1.8M419.1 250.0V261.8M418.2 250.0h1.8M419.5 251.9V262.1M418.6 251.9h1.8M419.9 249.1V259.2M419.0 249.1h1.8M420.3 259.0V269.8M419.4 259.0h1.8M420.8 261.8V272.2M419.9 261.8h1.8M421.1 263.3V272.1M420.2 263.3h1.8M421.5 272.6V282.6M420.6 272.6h1.8M422.0 247.8V258.2M421.1 247.8h1.8M422.5 258.4V269.5M421.6 258.4h1.8M423.0 245.1V256.9M422.1 245.1h1.8M423.3 242.5V253.2M422.4 242.5h1.8M423.7 245.0V253.3M422.8 245.0h1.8M424.1 240.7V250.8M423.2 240.7h1.8M424.6 247.3V256.3M423.7 247.3h1.8M425.0 238.3V246.5M424.1 238.3h1.8M425.4 238.0V246.2M424.5 238.0h1.8M426.0 247.0V257.8M425.1 247.0h1.8M426.3 252.4V260.1M425.4 252.4h1.8M426.8 253.7V262.5M425.9 253.7h1.8M427.3 238.6V250.4M426.4 238.6h1.8M427.7 255.7V264.1M426.8 255.7h1.8M428.1 242.5V250.9M427.2 242.5h1.8M428.7 254.4V263.3M427.8 254.4h1.8M429.0 241.9V250.5M428.1 241.9h1.8M429.4 245.9V255.1M428.5 245.9h1.8M429.7 237.7V246.4M428.8 237.7h1.8M430.3 255.9V264.3M429.4 255.9h1.8M430.8 252.9V264.2M429.9 252.9h1.8M431.3 247.3V257.6M430.4 247.3h1.8M431.6 251.8V259.9M430.7 251.8h1.8M432.0 245.9V256.8M431.1 245.9h1.8M432.5 244.3V254.8M431.6 244.3h1.8M433.0 250.9V261.8M432.1 250.9h1.8M433.4 248.8V260.5M432.5 248.8h1.8M433.9 254.7V264.5M433.0 254.7h1.8M434.4 244.6V253.2M433.5 244.6h1.8M434.8 240.1V251.1M433.9 240.1h1.8M435.2 233.7V243.8M434.3 233.7h1.8M435.8 243.1V252.2M434.9 243.1h1.8M436.1 252.8V261.4M435.2 252.8h1.8M436.6 250.5V258.3M435.7 250.5h1.8M437.0 243.2V253.8M436.1 243.2h1.8M437.5 248.8V258.2M436.6 248.8h1.8M437.8 252.1V261.0M436.9 252.1h1.8M438.4 241.1V251.5M437.5 241.1h1.8M438.8 235.9V246.5M437.9 235.9h1.8M439.1 218.4V229.4M438.2 218.4h1.8M439.4 213.4V224.2M438.5 213.4h1.8M439.8 243.3V252.3M438.9 243.3h1.8M440.0 239.5V248.6M439.1 239.5h1.8M440.4 257.0V265.3M439.5 257.0h1.8M440.8 255.0V264.8M439.9 255.0h1.8M441.3 246.9V257.4M440.4 246.9h1.8M441.7 253.6V262.6M440.8 253.6h1.8M442.0 250.9V258.7M441.1 250.9h1.8M442.4 246.0V257.4M441.5 246.0h1.8M442.9 253.8V264.3M442.0 253.8h1.8M443.5 247.3V257.3M442.6 247.3h1.8M443.9 249.9V258.6M443.0 249.9h1.8M444.2 255.2V266.5M443.3 255.2h1.8M444.8 245.6V253.7M443.9 245.6h1.8M445.1 247.5V257.3M444.2 247.5h1.8M445.5 243.4V254.9M444.6 243.4h1.8M445.8 256.0V267.2M444.9 256.0h1.8M446.3 245.7V256.1M445.4 245.7h1.8M446.8 251.7V262.4M445.9 251.7h1.8M447.3 248.7V259.4M446.4 248.7h1.8M447.7 249.4V257.2M446.8 249.4h1.8M448.2 248.9V259.2M447.3 248.9h1.8M448.5 254.0V262.5M447.6 254.0h1.8M449.1 249.4V258.0M448.2 249.4h1.8M449.4 256.6V268.5M448.5 256.6h1.8M449.9 255.2V266.3M449.0 255.2h1.8M450.5 246.6V254.4M449.6 246.6h1.8M451.0 252.6V263.9M450.1 252.6h1.8M451.4 245.9V256.2M450.5 245.9h1.8M451.8 247.6V255.7M450.9 247.6h1.8M452.2 248.1V257.6M451.3 248.1h1.8M452.5 250.9V260.9M451.6 250.9h1.8M453.0 251.4V262.6M452.1 251.4h1.8M453.4 252.0V260.0M452.5 252.0h1.8M454.0 253.8V262.8M453.1 253.8h1.8M454.3 258.8V267.8M453.4 258.8h1.8M454.7 247.7V258.7M453.8 247.7h1.8M455.0 249.6V258.1M454.1 249.6h1.8M455.4 253.5V263.4M454.5 253.5h1.8M455.7 243.1V250.8M454.8 243.1h1.8M456.0 249.9V259.7M455.1 249.9h1.8M456.5 250.2V259.6M455.6 250.2h1.8M456.8 257.4V268.2M455.9 257.4h1.8M457.2 254.9V265.0M456.3 254.9h1.8M457.5 248.1V258.2M456.6 248.1h1.8M457.9 256.4V265.0M457.0 256.4h1.8M458.3 262.0V273.1M457.4 262.0h1.8M458.8 240.7V252.5M457.9 240.7h1.8M459.3 247.4V255.2M458.4 247.4h1.8M459.7 264.4V274.0M458.8 264.4h1.8M460.2 255.7V266.3M459.3 255.7h1.8M460.8 256.1V266.8M459.9 256.1h1.8M461.1 249.6V258.0M460.2 249.6h1.8M461.6 254.3V263.6M460.7 254.3h1.8M462.2 251.8V262.6M461.3 251.8h1.8M462.7 228.4V238.2M461.8 228.4h1.8M463.0 205.9V216.6M462.1 205.9h1.8M463.5 218.6V227.0M462.6 218.6h1.8M464.0 241.7V252.3M463.1 241.7h1.8M464.3 257.8V269.6M463.4 257.8h1.8M464.5 252.0V263.6M463.6 252.0h1.8M465.1 241.7V252.4M464.2 241.7h1.8M465.6 253.5V261.9M464.7 253.5h1.8M465.9 252.7V260.3M465.0 252.7h1.8M466.2 257.6V268.0M465.3 257.6h1.8M466.5 248.3V257.0M465.6 248.3h1.8M466.8 251.3V261.6M465.9 251.3h1.8M467.4 254.3V266.3M466.5 254.3h1.8M467.7 253.6V261.9M466.8 253.6h1.8M468.0 254.9V264.0M467.1 254.9h1.8M468.6 260.0V269.6M467.7 260.0h1.8M469.1 249.5V257.4M468.2 249.5h1.8M469.4 254.5V265.5M468.5 254.5h1.8M470.0 253.7V263.4M469.1 253.7h1.8M470.5 260.5V271.5M469.6 260.5h1.8M471.0 251.7V261.3M470.1 251.7h1.8M471.5 255.1V263.1M470.6 255.1h1.8M472.0 251.3V261.4M471.1 251.3h1.8M472.6 251.2V259.8M471.7 251.2h1.8M473.1 254.9V262.5M472.2 254.9h1.8M473.4 259.0V270.8M472.5 259.0h1.8M473.9 249.3V261.2M473.0 249.3h1.8M474.3 247.7V256.9M473.4 247.7h1.8M474.9 256.8V267.9M474.0 256.8h1.8M475.3 258.2V265.7M474.4 258.2h1.8M475.8 256.0V264.5M474.9 256.0h1.8M476.3 256.1V263.7M475.4 256.1h1.8M476.6 256.9V268.1M475.7 256.9h1.8M476.9 261.3V268.9M476.0 261.3h1.8M477.2 252.4V263.9M476.3 252.4h1.8M477.7 255.7V264.6M476.8 255.7h1.8M477.9 255.5V265.8M477.0 255.5h1.8M478.3 258.5V268.9M477.4 258.5h1.8M478.6 251.3V259.7M477.7 251.3h1.8M479.1 254.7V264.0M478.2 254.7h1.8M479.5 264.8V272.7M478.6 264.8h1.8M479.9 252.8V261.2M479.0 252.8h1.8M480.5 253.1V262.6M479.6 253.1h1.8M480.7 247.6V258.3M479.8 247.6h1.8M481.3 247.8V257.3M480.4 247.8h1.8M481.7 256.5V264.3M480.8 256.5h1.8M482.1 250.6V260.2M481.2 250.6h1.8M482.6 244.2V254.9M481.7 244.2h1.8M483.2 257.5V266.0M482.3 257.5h1.8M483.5 251.5V261.1M482.6 251.5h1.8M483.9 251.6V259.7M483.0 251.6h1.8M484.5 263.8V271.5M483.6 263.8h1.8M484.8 255.1V263.6M483.9 255.1h1.8M485.3 260.4V269.6M484.4 260.4h1.8M485.8 254.8V265.8M484.9 254.8h1.8M486.0 257.2V268.1M485.1 257.2h1.8M486.5 249.5V257.2M485.6 249.5h1.8M487.0 263.2V274.4M486.1 263.2h1.8M487.5 261.0V268.7M486.6 261.0h1.8M487.9 255.8V267.5M487.0 255.8h1.8M488.5 256.0V264.5M487.6 256.0h1.8M488.9 249.8V260.2M488.0 249.8h1.8M489.3 245.5V257.1M488.4 245.5h1.8M489.9 257.0V264.6M489.0 257.0h1.8M490.2 258.2V269.1M489.3 258.2h1.8M490.7 265.4V276.1M489.8 265.4h1.8M491.1 264.4V272.7M490.2 264.4h1.8M491.5 256.1V265.9M490.6 256.1h1.8M492.1 251.6V259.6M491.2 251.6h1.8M492.4 253.1V264.7M491.5 253.1h1.8M492.9 244.8V252.3M492.0 244.8h1.8M493.3 257.3V268.5M492.4 257.3h1.8M493.8 252.0V261.8M492.9 252.0h1.8M494.1 251.9V263.0M493.2 251.9h1.8M494.5 253.8V261.7M493.6 253.8h1.8M494.9 262.9V271.7M494.0 262.9h1.8M495.4 259.3V268.6M494.5 259.3h1.8M495.9 268.0V275.6M495.0 268.0h1.8M496.3 261.0V272.2M495.4 261.0h1.8M496.8 266.9V274.9M495.9 266.9h1.8M497.2 259.1V269.6M496.3 259.1h1.8M497.6 264.1V272.1M496.7 264.1h1.8M498.0 263.8V275.7M497.1 263.8h1.8M498.4 255.2V263.1M497.5 255.2h1.8M499.0 254.7V265.5M498.1 254.7h1.8M499.5 260.5V268.5M498.6 260.5h1.8M500.0 245.6V254.8M499.1 245.6h1.8M500.4 249.1V257.3M499.5 249.1h1.8M500.7 257.7V268.0M499.8 257.7h1.8M99.9 57.5V97.5M99.0 57.5h1.8M31.0 259.3V269.3M30.1 259.3h1.8M157.4 247.3V257.3M156.5 247.3h1.8M240.6 123.3V143.3M239.7 123.3h1.8M244.2 123.3V143.3M243.3 123.3h1.8M255.0 121.0V139.0M254.1 121.0h1.8M362.9 185.0V201.0M362.0 185.0h1.8M439.2 212.7V228.7M438.3 212.7h1.8M463.2 196.0V208.0M462.3 196.0h1.8M114.6 249.0V261.0M113.7 249.0h1.8M127.2 252.0V264.0M126.3 252.0h1.8M233.6 259.7V267.7M232.7 259.7h1.8M251.7 259.7V267.7M250.8 259.7h1.8" stroke="#333" stroke-width="0.9" fill="none"/>
<g fill="#cc2820" stroke="#7a1410" stroke-width="0.45"><circle cx="99.6" cy="102.8" r="1.9"/><circle cx="240.4" cy="135.1" r="1.9"/><circle cx="244.7" cy="153.6" r="1.9"/><circle cx="226.6" cy="172.9" r="1.9"/><circle cx="254.8" cy="131.4" r="1.9"/><circle cx="439.1" cy="223.9" r="1.9"/><circle cx="439.4" cy="218.8" r="1.9"/><circle cx="244.1" cy="154.0" r="1.9"/><circle cx="276.2" cy="198.8" r="1.9"/><circle cx="362.6" cy="204.4" r="1.9"/><circle cx="254.5" cy="163.1" r="1.9"/><circle cx="240.8" cy="171.0" r="1.9"/><circle cx="254.2" cy="185.0" r="1.9"/><circle cx="275.8" cy="181.5" r="1.9"/><circle cx="463.5" cy="222.8" r="1.9"/><circle cx="363.1" cy="213.3" r="1.9"/><circle cx="463.0" cy="211.3" r="1.9"/><circle cx="362.3" cy="219.7" r="1.9"/><circle cx="226.2" cy="172.1" r="1.9"/><circle cx="462.7" cy="233.3" r="1.9"/><circle cx="255.3" cy="159.9" r="1.9"/><circle cx="99.0" cy="156.6" r="1.9"/><circle cx="274.9" cy="206.4" r="1.9"/><circle cx="239.9" cy="179.9" r="1.9"/><circle cx="99.3" cy="118.3" r="1.9"/><circle cx="286.9" cy="202.6" r="1.9"/><circle cx="275.2" cy="196.3" r="1.9"/><circle cx="100.2" cy="170.4" r="1.9"/><circle cx="245.0" cy="197.0" r="1.9"/><circle cx="134.5" cy="214.9" r="1.9"/><circle cx="437.5" cy="253.5" r="1.9"/><circle cx="473.1" cy="258.7" r="1.9"/><circle cx="40.0" cy="233.4" r="1.9"/><circle cx="114.9" cy="245.4" r="1.9"/><circle cx="252.3" cy="208.3" r="1.9"/><circle cx="311.2" cy="230.7" r="1.9"/><circle cx="487.9" cy="261.6" r="1.9"/><circle cx="341.2" cy="242.4" r="1.9"/><circle cx="294.6" cy="241.8" r="1.9"/><circle cx="129.5" cy="228.0" r="1.9"/><circle cx="314.9" cy="238.0" r="1.9"/><circle cx="210.7" cy="205.7" r="1.9"/><circle cx="387.8" cy="254.4" r="1.9"/><circle cx="255.9" cy="213.7" r="1.9"/><circle cx="53.9" cy="239.3" r="1.9"/><circle cx="137.1" cy="209.1" r="1.9"/><circle cx="38.4" cy="242.5" r="1.9"/><circle cx="71.6" cy="252.7" r="1.9"/><circle cx="148.9" cy="213.1" r="1.9"/><circle cx="141.9" cy="210.1" r="1.9"/><circle cx="168.1" cy="217.6" r="1.9"/><circle cx="220.9" cy="205.2" r="1.9"/><circle cx="176.0" cy="207.8" r="1.9"/><circle cx="364.4" cy="251.4" r="1.9"/><circle cx="460.2" cy="261.0" r="1.9"/><circle cx="-0.3" cy="214.4" r="1.9"/><circle cx="98.0" cy="223.3" r="1.9"/><circle cx="81.3" cy="231.8" r="1.9"/><circle cx="61.5" cy="234.6" r="1.9"/><circle cx="492.9" cy="248.6" r="1.9"/><circle cx="3.3" cy="215.3" r="1.9"/><circle cx="335.6" cy="230.6" r="1.9"/><circle cx="433.0" cy="256.4" r="1.9"/><circle cx="155.2" cy="222.9" r="1.9"/><circle cx="255.0" cy="130.0" r="1.9"/><circle cx="257.9" cy="232.3" r="1.9"/><circle cx="84.9" cy="228.4" r="1.9"/><circle cx="176.3" cy="199.9" r="1.9"/><circle cx="337.9" cy="235.8" r="1.9"/><circle cx="475.8" cy="260.2" r="1.9"/><circle cx="305.6" cy="244.3" r="1.9"/><circle cx="318.3" cy="266.6" r="1.9"/><circle cx="30.5" cy="225.8" r="1.9"/><circle cx="69.2" cy="221.3" r="1.9"/><circle cx="344.2" cy="244.7" r="1.9"/><circle cx="200.8" cy="204.8" r="1.9"/><circle cx="192.1" cy="223.5" r="1.9"/><circle cx="238.2" cy="206.4" r="1.9"/><circle cx="102.7" cy="211.2" r="1.9"/><circle cx="466.2" cy="262.8" r="1.9"/><circle cx="14.7" cy="215.4" r="1.9"/><circle cx="106.2" cy="212.6" r="1.9"/><circle cx="212.8" cy="243.4" r="1.9"/><circle cx="126.1" cy="212.2" r="1.9"/><circle cx="370.3" cy="248.9" r="1.9"/><circle cx="233.0" cy="218.5" r="1.9"/><circle cx="403.3" cy="255.4" r="1.9"/><circle cx="11.8" cy="202.2" r="1.9"/><circle cx="297.1" cy="237.9" r="1.9"/><circle cx="143.0" cy="213.0" r="1.9"/><circle cx="117.2" cy="206.4" r="1.9"/><circle cx="151.5" cy="215.7" r="1.9"/><circle cx="299.3" cy="232.2" r="1.9"/><circle cx="245.3" cy="198.5" r="1.9"/><circle cx="484.8" cy="259.3" r="1.9"/><circle cx="351.2" cy="257.3" r="1.9"/><circle cx="229.3" cy="259.1" r="1.9"/><circle cx="440.8" cy="259.9" r="1.9"/><circle cx="217.0" cy="230.3" r="1.9"/><circle cx="432.5" cy="249.6" r="1.9"/><circle cx="407.9" cy="255.9" r="1.9"/><circle cx="54.7" cy="230.2" r="1.9"/><circle cx="340.7" cy="234.0" r="1.9"/><circle cx="149.3" cy="208.0" r="1.9"/><circle cx="281.7" cy="232.4" r="1.9"/><circle cx="41.6" cy="225.2" r="1.9"/><circle cx="81.7" cy="212.5" r="1.9"/><circle cx="495.4" cy="264.0" r="1.9"/><circle cx="367.4" cy="244.9" r="1.9"/><circle cx="100.5" cy="204.3" r="1.9"/><circle cx="319.1" cy="263.5" r="1.9"/><circle cx="381.0" cy="246.6" r="1.9"/><circle cx="350.4" cy="258.5" r="1.9"/><circle cx="264.5" cy="189.4" r="1.9"/><circle cx="187.7" cy="221.5" r="1.9"/><circle cx="318.6" cy="268.6" r="1.9"/><circle cx="13.9" cy="202.7" r="1.9"/><circle cx="351.7" cy="234.8" r="1.9"/><circle cx="174.6" cy="200.5" r="1.9"/><circle cx="339.0" cy="240.4" r="1.9"/><circle cx="225.2" cy="213.6" r="1.9"/><circle cx="266.7" cy="238.7" r="1.9"/><circle cx="205.0" cy="206.5" r="1.9"/><circle cx="360.2" cy="246.2" r="1.9"/><circle cx="59.3" cy="231.9" r="1.9"/><circle cx="490.7" cy="270.8" r="1.9"/><circle cx="249.7" cy="222.3" r="1.9"/><circle cx="394.0" cy="254.0" r="1.9"/><circle cx="260.3" cy="236.0" r="1.9"/><circle cx="449.9" cy="260.7" r="1.9"/><circle cx="247.7" cy="216.9" r="1.9"/><circle cx="435.2" cy="238.7" r="1.9"/><circle cx="378.2" cy="244.1" r="1.9"/><circle cx="470.5" cy="266.0" r="1.9"/><circle cx="464.5" cy="257.8" r="1.9"/><circle cx="407.7" cy="254.8" r="1.9"/><circle cx="402.8" cy="249.3" r="1.9"/><circle cx="237.2" cy="210.0" r="1.9"/><circle cx="264.0" cy="224.2" r="1.9"/><circle cx="316.0" cy="228.0" r="1.9"/><circle cx="126.7" cy="231.8" r="1.9"/><circle cx="484.5" cy="267.6" r="1.9"/><circle cx="256.1" cy="225.9" r="1.9"/><circle cx="230.6" cy="238.5" r="1.9"/><circle cx="491.1" cy="268.6" r="1.9"/><circle cx="91.9" cy="223.7" r="1.9"/><circle cx="2.4" cy="208.8" r="1.9"/><circle cx="107.5" cy="204.2" r="1.9"/><circle cx="439.2" cy="220.7" r="1.9"/><circle cx="17.2" cy="213.4" r="1.9"/><circle cx="485.8" cy="260.3" r="1.9"/><circle cx="420.8" cy="267.0" r="1.9"/><circle cx="13.4" cy="219.0" r="1.9"/><circle cx="259.9" cy="254.2" r="1.9"/><circle cx="63.5" cy="232.0" r="1.9"/><circle cx="420.3" cy="264.4" r="1.9"/><circle cx="166.9" cy="224.5" r="1.9"/><circle cx="415.6" cy="246.6" r="1.9"/><circle cx="474.3" cy="252.3" r="1.9"/><circle cx="416.5" cy="249.9" r="1.9"/><circle cx="142.7" cy="223.5" r="1.9"/><circle cx="125.5" cy="207.6" r="1.9"/><circle cx="117.9" cy="198.6" r="1.9"/><circle cx="262.1" cy="230.1" r="1.9"/><circle cx="94.3" cy="195.7" r="1.9"/><circle cx="236.2" cy="225.0" r="1.9"/><circle cx="326.6" cy="259.9" r="1.9"/><circle cx="19.1" cy="218.4" r="1.9"/><circle cx="348.6" cy="236.8" r="1.9"/><circle cx="7.3" cy="218.2" r="1.9"/><circle cx="45.8" cy="224.3" r="1.9"/><circle cx="88.4" cy="220.6" r="1.9"/><circle cx="205.7" cy="224.1" r="1.9"/><circle cx="479.1" cy="259.3" r="1.9"/><circle cx="455.4" cy="258.5" r="1.9"/><circle cx="44.3" cy="239.9" r="1.9"/><circle cx="225.6" cy="195.2" r="1.9"/><circle cx="126.4" cy="230.3" r="1.9"/><circle cx="15.3" cy="212.7" r="1.9"/><circle cx="411.2" cy="251.9" r="1.9"/><circle cx="224.6" cy="214.4" r="1.9"/><circle cx="416.0" cy="249.1" r="1.9"/><circle cx="41.1" cy="232.9" r="1.9"/><circle cx="349.5" cy="245.5" r="1.9"/><circle cx="306.7" cy="225.7" r="1.9"/><circle cx="387.3" cy="257.1" r="1.9"/><circle cx="407.2" cy="250.3" r="1.9"/><circle cx="443.9" cy="254.2" r="1.9"/><circle cx="31.7" cy="220.5" r="1.9"/><circle cx="234.7" cy="226.3" r="1.9"/><circle cx="426.0" cy="252.4" r="1.9"/><circle cx="270.7" cy="240.2" r="1.9"/><circle cx="458.8" cy="246.6" r="1.9"/><circle cx="7.7" cy="209.5" r="1.9"/><circle cx="257.4" cy="237.2" r="1.9"/><circle cx="427.7" cy="259.9" r="1.9"/><circle cx="413.3" cy="247.8" r="1.9"/><circle cx="404.2" cy="251.1" r="1.9"/><circle cx="267.1" cy="259.7" r="1.9"/><circle cx="86.6" cy="236.6" r="1.9"/><circle cx="442.0" cy="254.8" r="1.9"/><circle cx="221.3" cy="220.6" r="1.9"/><circle cx="263.2" cy="229.4" r="1.9"/><circle cx="423.0" cy="251.0" r="1.9"/><circle cx="317.6" cy="244.5" r="1.9"/><circle cx="60.8" cy="235.5" r="1.9"/><circle cx="376.0" cy="242.6" r="1.9"/><circle cx="374.4" cy="270.0" r="1.9"/><circle cx="356.2" cy="253.4" r="1.9"/><circle cx="232.4" cy="209.1" r="1.9"/><circle cx="386.3" cy="255.2" r="1.9"/><circle cx="178.1" cy="203.7" r="1.9"/><circle cx="365.6" cy="250.1" r="1.9"/><circle cx="25.1" cy="196.5" r="1.9"/><circle cx="298.7" cy="233.2" r="1.9"/><circle cx="285.0" cy="241.1" r="1.9"/><circle cx="386.9" cy="255.3" r="1.9"/><circle cx="103.5" cy="206.4" r="1.9"/><circle cx="447.7" cy="253.3" r="1.9"/><circle cx="147.1" cy="218.5" r="1.9"/><circle cx="-0.6" cy="210.7" r="1.9"/><circle cx="477.2" cy="258.2" r="1.9"/><circle cx="373.5" cy="258.8" r="1.9"/><circle cx="282.4" cy="248.0" r="1.9"/><circle cx="442.9" cy="259.0" r="1.9"/><circle cx="479.5" cy="268.7" r="1.9"/><circle cx="104.7" cy="212.1" r="1.9"/><circle cx="42.6" cy="238.3" r="1.9"/><circle cx="500.7" cy="262.8" r="1.9"/><circle cx="27.4" cy="224.1" r="1.9"/><circle cx="231.8" cy="220.3" r="1.9"/><circle cx="171.0" cy="226.5" r="1.9"/><circle cx="124.4" cy="217.4" r="1.9"/><circle cx="105.7" cy="205.9" r="1.9"/><circle cx="165.4" cy="204.8" r="1.9"/><circle cx="468.0" cy="259.5" r="1.9"/><circle cx="2.1" cy="207.9" r="1.9"/><circle cx="271.4" cy="218.5" r="1.9"/><circle cx="381.8" cy="251.0" r="1.9"/><circle cx="188.2" cy="213.9" r="1.9"/><circle cx="332.1" cy="235.2" r="1.9"/><circle cx="104.3" cy="205.0" r="1.9"/><circle cx="234.2" cy="252.0" r="1.9"/><circle cx="197.7" cy="215.3" r="1.9"/><circle cx="211.7" cy="226.3" r="1.9"/><circle cx="322.9" cy="248.4" r="1.9"/><circle cx="191.3" cy="190.7" r="1.9"/><circle cx="21.2" cy="215.5" r="1.9"/><circle cx="373.8" cy="244.9" r="1.9"/><circle cx="472.0" cy="256.3" r="1.9"/><circle cx="306.0" cy="238.6" r="1.9"/><circle cx="51.8" cy="244.6" r="1.9"/><circle cx="105.3" cy="225.3" r="1.9"/><circle cx="146.0" cy="213.0" r="1.9"/><circle cx="207.5" cy="221.1" r="1.9"/><circle cx="167.8" cy="220.2" r="1.9"/><circle cx="132.5" cy="216.5" r="1.9"/><circle cx="35.6" cy="245.5" r="1.9"/><circle cx="352.2" cy="242.8" r="1.9"/><circle cx="370.8" cy="239.9" r="1.9"/><circle cx="483.2" cy="261.8" r="1.9"/><circle cx="271.0" cy="232.7" r="1.9"/><circle cx="92.2" cy="216.0" r="1.9"/><circle cx="241.9" cy="215.2" r="1.9"/><circle cx="183.3" cy="217.3" r="1.9"/><circle cx="429.7" cy="242.0" r="1.9"/><circle cx="267.8" cy="254.4" r="1.9"/><circle cx="364.2" cy="246.3" r="1.9"/><circle cx="376.9" cy="245.6" r="1.9"/><circle cx="263.6" cy="223.0" r="1.9"/><circle cx="94.7" cy="226.6" r="1.9"/><circle cx="498.0" cy="269.8" r="1.9"/><circle cx="450.5" cy="250.5" r="1.9"/><circle cx="162.1" cy="212.8" r="1.9"/><circle cx="353.5" cy="243.7" r="1.9"/><circle cx="313.7" cy="225.3" r="1.9"/><circle cx="153.7" cy="205.7" r="1.9"/><circle cx="440.0" cy="244.1" r="1.9"/><circle cx="334.6" cy="241.4" r="1.9"/><circle cx="349.2" cy="239.4" r="1.9"/><circle cx="170.0" cy="226.0" r="1.9"/><circle cx="243.6" cy="188.1" r="1.9"/><circle cx="68.3" cy="231.0" r="1.9"/><circle cx="154.3" cy="218.2" r="1.9"/><circle cx="376.6" cy="247.3" r="1.9"/><circle cx="369.4" cy="250.3" r="1.9"/><circle cx="14.3" cy="185.8" r="1.9"/><circle cx="31.3" cy="215.1" r="1.9"/><circle cx="115.8" cy="226.5" r="1.9"/><circle cx="197.0" cy="202.5" r="1.9"/><circle cx="405.4" cy="255.7" r="1.9"/><circle cx="279.9" cy="231.0" r="1.9"/><circle cx="45.4" cy="228.6" r="1.9"/><circle cx="323.2" cy="255.1" r="1.9"/><circle cx="442.4" cy="251.7" r="1.9"/><circle cx="372.1" cy="243.0" r="1.9"/><circle cx="491.5" cy="261.0" r="1.9"/><circle cx="110.4" cy="198.0" r="1.9"/><circle cx="175.4" cy="222.4" r="1.9"/><circle cx="18.1" cy="221.5" r="1.9"/><circle cx="89.8" cy="212.9" r="1.9"/><circle cx="246.5" cy="207.6" r="1.9"/><circle cx="363.4" cy="234.4" r="1.9"/><circle cx="427.3" cy="244.5" r="1.9"/><circle cx="157.7" cy="216.3" r="1.9"/><circle cx="289.0" cy="234.2" r="1.9"/><circle cx="180.7" cy="214.0" r="1.9"/><circle cx="392.9" cy="271.9" r="1.9"/><circle cx="209.3" cy="182.9" r="1.9"/><circle cx="302.3" cy="240.2" r="1.9"/><circle cx="119.0" cy="218.0" r="1.9"/><circle cx="327.5" cy="233.7" r="1.9"/><circle cx="219.1" cy="215.1" r="1.9"/><circle cx="150.6" cy="216.4" r="1.9"/><circle cx="87.6" cy="232.0" r="1.9"/><circle cx="396.9" cy="247.8" r="1.9"/><circle cx="102.1" cy="207.0" r="1.9"/><circle cx="198.6" cy="196.0" r="1.9"/><circle cx="109.4" cy="204.9" r="1.9"/><circle cx="169.6" cy="219.8" r="1.9"/><circle cx="121.0" cy="206.0" r="1.9"/><circle cx="391.9" cy="259.0" r="1.9"/><circle cx="277.6" cy="242.0" r="1.9"/><circle cx="287.8" cy="211.2" r="1.9"/><circle cx="210.4" cy="200.8" r="1.9"/><circle cx="482.6" cy="249.5" r="1.9"/><circle cx="325.8" cy="234.1" r="1.9"/><circle cx="347.3" cy="234.6" r="1.9"/><circle cx="152.3" cy="224.2" r="1.9"/><circle cx="348.0" cy="242.8" r="1.9"/><circle cx="464.0" cy="247.0" r="1.9"/><circle cx="83.8" cy="229.9" r="1.9"/><circle cx="193.9" cy="216.0" r="1.9"/><circle cx="39.7" cy="246.8" r="1.9"/><circle cx="166.0" cy="204.7" r="1.9"/><circle cx="282.0" cy="244.6" r="1.9"/><circle cx="12.1" cy="206.9" r="1.9"/><circle cx="130.4" cy="209.3" r="1.9"/><circle cx="188.7" cy="206.0" r="1.9"/><circle cx="77.6" cy="218.8" r="1.9"/><circle cx="286.4" cy="216.6" r="1.9"/><circle cx="133.0" cy="220.7" r="1.9"/><circle cx="241.5" cy="209.5" r="1.9"/><circle cx="156.5" cy="243.7" r="1.9"/><circle cx="23.2" cy="184.4" r="1.9"/><circle cx="19.8" cy="213.2" r="1.9"/><circle cx="201.9" cy="205.6" r="1.9"/><circle cx="441.7" cy="258.1" r="1.9"/><circle cx="302.7" cy="234.0" r="1.9"/><circle cx="163.2" cy="199.2" r="1.9"/><circle cx="476.9" cy="265.1" r="1.9"/><circle cx="166.3" cy="221.0" r="1.9"/><circle cx="271.8" cy="248.2" r="1.9"/><circle cx="419.9" cy="254.2" r="1.9"/><circle cx="340.3" cy="232.4" r="1.9"/><circle cx="235.3" cy="201.0" r="1.9"/><circle cx="138.2" cy="223.8" r="1.9"/><circle cx="354.3" cy="248.4" r="1.9"/><circle cx="388.3" cy="258.3" r="1.9"/><circle cx="500.4" cy="253.2" r="1.9"/><circle cx="343.3" cy="247.0" r="1.9"/><circle cx="364.8" cy="240.1" r="1.9"/><circle cx="160.8" cy="208.3" r="1.9"/><circle cx="70.0" cy="227.7" r="1.9"/><circle cx="498.4" cy="259.1" r="1.9"/><circle cx="184.7" cy="205.6" r="1.9"/><circle cx="419.5" cy="257.0" r="1.9"/><circle cx="251.7" cy="263.7" r="1.9"/><circle cx="397.7" cy="258.0" r="1.9"/><circle cx="454.7" cy="253.2" r="1.9"/><circle cx="257.1" cy="230.8" r="1.9"/><circle cx="305.3" cy="231.6" r="1.9"/><circle cx="215.6" cy="216.8" r="1.9"/><circle cx="52.0" cy="244.5" r="1.9"/><circle cx="250.9" cy="262.2" r="1.9"/><circle cx="314.5" cy="234.0" r="1.9"/><circle cx="268.5" cy="257.3" r="1.9"/><circle cx="192.5" cy="244.9" r="1.9"/><circle cx="353.2" cy="254.1" r="1.9"/><circle cx="50.4" cy="227.6" r="1.9"/><circle cx="465.9" cy="256.5" r="1.9"/><circle cx="251.8" cy="239.5" r="1.9"/><circle cx="393.5" cy="248.9" r="1.9"/><circle cx="444.8" cy="249.6" r="1.9"/><circle cx="1.5" cy="205.5" r="1.9"/><circle cx="473.4" cy="264.9" r="1.9"/><circle cx="330.0" cy="221.4" r="1.9"/><circle cx="58.9" cy="229.0" r="1.9"/><circle cx="492.4" cy="258.9" r="1.9"/><circle cx="240.6" cy="133.3" r="1.9"/><circle cx="73.5" cy="210.4" r="1.9"/><circle cx="208.5" cy="220.9" r="1.9"/><circle cx="78.5" cy="217.7" r="1.9"/><circle cx="237.6" cy="220.4" r="1.9"/><circle cx="486.0" cy="262.7" r="1.9"/><circle cx="55.2" cy="234.9" r="1.9"/><circle cx="483.5" cy="256.3" r="1.9"/><circle cx="265.0" cy="211.2" r="1.9"/><circle cx="347.0" cy="240.4" r="1.9"/><circle cx="449.1" cy="253.7" r="1.9"/><circle cx="128.5" cy="230.4" r="1.9"/><circle cx="390.4" cy="242.9" r="1.9"/><circle cx="1.3" cy="218.1" r="1.9"/><circle cx="72.0" cy="258.4" r="1.9"/><circle cx="475.3" cy="262.0" r="1.9"/><circle cx="423.7" cy="249.2" r="1.9"/><circle cx="386.6" cy="254.1" r="1.9"/><circle cx="10.0" cy="201.3" r="1.9"/><circle cx="482.1" cy="255.4" r="1.9"/><circle cx="139.7" cy="215.9" r="1.9"/><circle cx="246.9" cy="214.2" r="1.9"/><circle cx="253.8" cy="223.7" r="1.9"/><circle cx="284.4" cy="246.1" r="1.9"/><circle cx="158.0" cy="213.7" r="1.9"/><circle cx="295.9" cy="236.5" r="1.9"/><circle cx="184.1" cy="203.6" r="1.9"/><circle cx="64.8" cy="245.9" r="1.9"/><circle cx="296.6" cy="230.0" r="1.9"/><circle cx="130.8" cy="221.0" r="1.9"/><circle cx="360.6" cy="242.6" r="1.9"/><circle cx="147.6" cy="209.3" r="1.9"/><circle cx="426.3" cy="256.3" r="1.9"/><circle cx="169.0" cy="216.1" r="1.9"/><circle cx="295.4" cy="234.3" r="1.9"/><circle cx="127.2" cy="258.0" r="1.9"/><circle cx="50.9" cy="234.5" r="1.9"/><circle cx="181.5" cy="211.7" r="1.9"/><circle cx="108.5" cy="204.8" r="1.9"/><circle cx="329.4" cy="247.0" r="1.9"/><circle cx="222.5" cy="226.3" r="1.9"/><circle cx="38.8" cy="221.4" r="1.9"/><circle cx="158.6" cy="205.7" r="1.9"/><circle cx="202.2" cy="206.1" r="1.9"/><circle cx="392.6" cy="254.5" r="1.9"/><circle cx="309.9" cy="241.1" r="1.9"/><circle cx="400.1" cy="246.4" r="1.9"/><circle cx="193.3" cy="232.6" r="1.9"/><circle cx="354.8" cy="240.8" r="1.9"/><circle cx="213.7" cy="214.4" r="1.9"/><circle cx="161.4" cy="204.9" r="1.9"/><circle cx="214.6" cy="214.8" r="1.9"/><circle cx="487.0" cy="268.8" r="1.9"/><circle cx="424.6" cy="251.8" r="1.9"/><circle cx="36.5" cy="208.1" r="1.9"/><circle cx="454.0" cy="258.3" r="1.9"/><circle cx="309.6" cy="225.5" r="1.9"/><circle cx="241.2" cy="207.5" r="1.9"/><circle cx="297.4" cy="237.2" r="1.9"/><circle cx="297.9" cy="230.1" r="1.9"/><circle cx="441.3" cy="252.1" r="1.9"/><circle cx="375.2" cy="253.8" r="1.9"/><circle cx="22.6" cy="205.3" r="1.9"/><circle cx="116.2" cy="197.4" r="1.9"/><circle cx="235.7" cy="220.4" r="1.9"/><circle cx="49.9" cy="247.7" r="1.9"/><circle cx="229.7" cy="238.2" r="1.9"/><circle cx="312.5" cy="233.7" r="1.9"/><circle cx="70.4" cy="219.3" r="1.9"/><circle cx="150.2" cy="206.8" r="1.9"/><circle cx="451.4" cy="251.1" r="1.9"/><circle cx="171.6" cy="211.1" r="1.9"/><circle cx="436.6" cy="254.4" r="1.9"/><circle cx="444.2" cy="260.9" r="1.9"/><circle cx="33.8" cy="207.7" r="1.9"/><circle cx="220.6" cy="206.3" r="1.9"/><circle cx="33.2" cy="195.2" r="1.9"/><circle cx="280.2" cy="236.0" r="1.9"/><circle cx="340.0" cy="229.5" r="1.9"/><circle cx="127.9" cy="252.8" r="1.9"/><circle cx="293.6" cy="234.5" r="1.9"/><circle cx="174.1" cy="202.3" r="1.9"/><circle cx="371.6" cy="247.7" r="1.9"/><circle cx="476.3" cy="259.9" r="1.9"/><circle cx="292.7" cy="238.9" r="1.9"/><circle cx="148.4" cy="205.3" r="1.9"/><circle cx="20.7" cy="202.1" r="1.9"/><circle cx="453.4" cy="256.0" r="1.9"/><circle cx="391.4" cy="258.0" r="1.9"/><circle cx="262.5" cy="234.9" r="1.9"/><circle cx="207.1" cy="216.6" r="1.9"/><circle cx="59.8" cy="253.6" r="1.9"/><circle cx="373.3" cy="253.0" r="1.9"/><circle cx="424.1" cy="245.7" r="1.9"/><circle cx="375.6" cy="252.4" r="1.9"/><circle cx="151.8" cy="209.0" r="1.9"/><circle cx="18.6" cy="230.6" r="1.9"/><circle cx="261.2" cy="231.6" r="1.9"/><circle cx="490.2" cy="263.6" r="1.9"/><circle cx="29.1" cy="251.4" r="1.9"/><circle cx="16.1" cy="205.8" r="1.9"/><circle cx="439.8" cy="247.8" r="1.9"/><circle cx="91.4" cy="224.1" r="1.9"/><circle cx="401.9" cy="258.4" r="1.9"/><circle cx="381.5" cy="262.2" r="1.9"/><circle cx="140.2" cy="220.7" r="1.9"/><circle cx="159.2" cy="217.9" r="1.9"/><circle cx="417.0" cy="242.4" r="1.9"/><circle cx="12.5" cy="194.9" r="1.9"/><circle cx="272.4" cy="231.0" r="1.9"/><circle cx="463.2" cy="202.0" r="1.9"/><circle cx="320.4" cy="239.5" r="1.9"/><circle cx="228.1" cy="207.7" r="1.9"/><circle cx="145.1" cy="193.3" r="1.9"/><circle cx="99.9" cy="77.5" r="1.9"/><circle cx="488.5" cy="260.3" r="1.9"/><circle cx="303.6" cy="236.0" r="1.9"/><circle cx="117.5" cy="211.7" r="1.9"/><circle cx="458.3" cy="267.6" r="1.9"/><circle cx="479.9" cy="257.0" r="1.9"/><circle cx="182.5" cy="195.6" r="1.9"/><circle cx="265.7" cy="226.9" r="1.9"/><circle cx="494.9" cy="267.3" r="1.9"/><circle cx="380.3" cy="249.5" r="1.9"/><circle cx="472.6" cy="255.5" r="1.9"/><circle cx="135.2" cy="204.1" r="1.9"/><circle cx="500.0" cy="250.2" r="1.9"/><circle cx="96.3" cy="227.9" r="1.9"/><circle cx="233.6" cy="263.7" r="1.9"/><circle cx="373.0" cy="249.8" r="1.9"/><circle cx="488.9" cy="255.0" r="1.9"/><circle cx="131.1" cy="216.4" r="1.9"/><circle cx="230.2" cy="226.8" r="1.9"/><circle cx="199.0" cy="191.1" r="1.9"/><circle cx="404.4" cy="255.9" r="1.9"/><circle cx="383.3" cy="254.2" r="1.9"/><circle cx="165.6" cy="201.1" r="1.9"/><circle cx="452.2" cy="252.9" r="1.9"/><circle cx="112.7" cy="207.3" r="1.9"/><circle cx="78.0" cy="223.9" r="1.9"/><circle cx="438.8" cy="241.2" r="1.9"/><circle cx="469.1" cy="253.5" r="1.9"/><circle cx="466.5" cy="252.7" r="1.9"/><circle cx="361.6" cy="235.0" r="1.9"/><circle cx="454.3" cy="263.3" r="1.9"/><circle cx="371.3" cy="245.1" r="1.9"/><circle cx="295.0" cy="237.0" r="1.9"/><circle cx="106.6" cy="212.5" r="1.9"/><circle cx="26.2" cy="201.8" r="1.9"/><circle cx="350.7" cy="250.1" r="1.9"/><circle cx="378.6" cy="255.9" r="1.9"/><circle cx="269.8" cy="231.7" r="1.9"/><circle cx="42.9" cy="257.6" r="1.9"/><circle cx="396.1" cy="250.0" r="1.9"/><circle cx="231.4" cy="233.5" r="1.9"/><circle cx="203.1" cy="219.1" r="1.9"/><circle cx="154.0" cy="200.4" r="1.9"/><circle cx="216.5" cy="224.0" r="1.9"/><circle cx="390.9" cy="245.1" r="1.9"/><circle cx="478.3" cy="263.7" r="1.9"/><circle cx="82.5" cy="238.8" r="1.9"/><circle cx="425.4" cy="242.1" r="1.9"/><circle cx="486.5" cy="253.4" r="1.9"/><circle cx="103.9" cy="214.4" r="1.9"/><circle cx="284.7" cy="230.4" r="1.9"/><circle cx="330.5" cy="237.0" r="1.9"/><circle cx="446.8" cy="257.0" r="1.9"/><circle cx="467.7" cy="257.7" r="1.9"/><circle cx="321.0" cy="234.0" r="1.9"/><circle cx="19.5" cy="213.0" r="1.9"/><circle cx="123.8" cy="213.3" r="1.9"/><circle cx="300.9" cy="257.6" r="1.9"/><circle cx="227.5" cy="216.5" r="1.9"/><circle cx="455.0" cy="253.8" r="1.9"/><circle cx="130.0" cy="210.6" r="1.9"/><circle cx="223.2" cy="221.6" r="1.9"/><circle cx="411.9" cy="246.2" r="1.9"/><circle cx="168.5" cy="214.3" r="1.9"/><circle cx="355.9" cy="244.9" r="1.9"/><circle cx="143.9" cy="201.4" r="1.9"/><circle cx="197.3" cy="206.3" r="1.9"/><circle cx="353.9" cy="245.3" r="1.9"/><circle cx="24.4" cy="215.9" r="1.9"/><circle cx="114.6" cy="255.0" r="1.9"/><circle cx="342.2" cy="217.6" r="1.9"/><circle cx="337.4" cy="228.3" r="1.9"/><circle cx="85.8" cy="216.6" r="1.9"/><circle cx="77.1" cy="231.6" r="1.9"/><circle cx="367.9" cy="249.2" r="1.9"/><circle cx="385.5" cy="264.8" r="1.9"/><circle cx="88.7" cy="223.2" r="1.9"/><circle cx="122.7" cy="210.1" r="1.9"/><circle cx="320.7" cy="241.7" r="1.9"/><circle cx="92.6" cy="225.3" r="1.9"/><circle cx="358.5" cy="255.4" r="1.9"/><circle cx="288.5" cy="233.5" r="1.9"/><circle cx="10.8" cy="217.1" r="1.9"/><circle cx="307.5" cy="212.4" r="1.9"/><circle cx="434.8" cy="245.6" r="1.9"/><circle cx="227.0" cy="203.0" r="1.9"/><circle cx="261.7" cy="216.4" r="1.9"/><circle cx="477.7" cy="260.1" r="1.9"/><circle cx="253.4" cy="223.4" r="1.9"/><circle cx="346.2" cy="248.9" r="1.9"/><circle cx="341.7" cy="222.1" r="1.9"/><circle cx="194.7" cy="198.7" r="1.9"/><circle cx="43.8" cy="232.8" r="1.9"/><circle cx="384.6" cy="245.9" r="1.9"/><circle cx="437.8" cy="256.6" r="1.9"/><circle cx="4.7" cy="231.6" r="1.9"/><circle cx="324.2" cy="242.7" r="1.9"/><circle cx="185.2" cy="189.8" r="1.9"/><circle cx="247.2" cy="226.8" r="1.9"/><circle cx="421.1" cy="267.7" r="1.9"/><circle cx="417.5" cy="251.3" r="1.9"/><circle cx="398.4" cy="246.3" r="1.9"/><circle cx="333.3" cy="249.2" r="1.9"/><circle cx="415.2" cy="256.8" r="1.9"/><circle cx="63.0" cy="239.0" r="1.9"/><circle cx="362.0" cy="228.7" r="1.9"/><circle cx="37.5" cy="215.2" r="1.9"/><circle cx="306.3" cy="236.8" r="1.9"/><circle cx="410.3" cy="257.7" r="1.9"/><circle cx="131.9" cy="225.4" r="1.9"/><circle cx="96.8" cy="215.4" r="1.9"/><circle cx="443.5" cy="252.3" r="1.9"/><circle cx="124.9" cy="205.0" r="1.9"/><circle cx="163.9" cy="214.9" r="1.9"/><circle cx="355.4" cy="250.9" r="1.9"/><circle cx="63.7" cy="224.8" r="1.9"/><circle cx="328.4" cy="231.3" r="1.9"/><circle cx="238.6" cy="219.4" r="1.9"/><circle cx="78.9" cy="207.4" r="1.9"/><circle cx="58.5" cy="240.5" r="1.9"/><circle cx="359.6" cy="250.6" r="1.9"/><circle cx="214.0" cy="210.7" r="1.9"/><circle cx="144.7" cy="203.6" r="1.9"/><circle cx="139.2" cy="209.0" r="1.9"/><circle cx="396.4" cy="253.6" r="1.9"/><circle cx="110.8" cy="209.6" r="1.9"/><circle cx="20.4" cy="202.3" r="1.9"/><circle cx="24.7" cy="202.0" r="1.9"/><circle cx="445.5" cy="249.1" r="1.9"/><circle cx="307.2" cy="213.5" r="1.9"/><circle cx="67.4" cy="232.2" r="1.9"/><circle cx="111.2" cy="195.4" r="1.9"/><circle cx="399.8" cy="253.2" r="1.9"/><circle cx="467.4" cy="260.3" r="1.9"/><circle cx="141.3" cy="208.6" r="1.9"/><circle cx="346.6" cy="239.1" r="1.9"/><circle cx="204.4" cy="205.6" r="1.9"/><circle cx="451.0" cy="258.3" r="1.9"/><circle cx="123.2" cy="206.9" r="1.9"/><circle cx="135.5" cy="201.4" r="1.9"/><circle cx="147.9" cy="221.8" r="1.9"/><circle cx="377.3" cy="251.2" r="1.9"/><circle cx="308.4" cy="211.9" r="1.9"/><circle cx="142.4" cy="200.5" r="1.9"/><circle cx="357.3" cy="261.2" r="1.9"/><circle cx="339.4" cy="219.8" r="1.9"/><circle cx="273.2" cy="217.5" r="1.9"/><circle cx="34.6" cy="195.1" r="1.9"/><circle cx="32.6" cy="211.9" r="1.9"/><circle cx="46.9" cy="241.9" r="1.9"/><circle cx="8.5" cy="190.4" r="1.9"/><circle cx="6.7" cy="220.5" r="1.9"/><circle cx="310.7" cy="226.7" r="1.9"/><circle cx="398.9" cy="253.2" r="1.9"/><circle cx="72.6" cy="240.6" r="1.9"/><circle cx="97.1" cy="227.4" r="1.9"/><circle cx="394.8" cy="254.7" r="1.9"/><circle cx="269.2" cy="246.6" r="1.9"/><circle cx="325.3" cy="230.3" r="1.9"/><circle cx="33.5" cy="203.2" r="1.9"/><circle cx="418.6" cy="258.5" r="1.9"/><circle cx="0.7" cy="217.1" r="1.9"/><circle cx="27.8" cy="197.0" r="1.9"/><circle cx="476.6" cy="262.5" r="1.9"/><circle cx="114.5" cy="238.2" r="1.9"/><circle cx="239.1" cy="212.4" r="1.9"/><circle cx="351.0" cy="251.5" r="1.9"/><circle cx="227.8" cy="208.0" r="1.9"/><circle cx="429.4" cy="250.5" r="1.9"/><circle cx="428.7" cy="258.9" r="1.9"/><circle cx="17.6" cy="219.0" r="1.9"/><circle cx="251.2" cy="260.9" r="1.9"/><circle cx="480.5" cy="257.8" r="1.9"/><circle cx="494.5" cy="257.8" r="1.9"/><circle cx="25.4" cy="210.0" r="1.9"/><circle cx="67.7" cy="233.4" r="1.9"/><circle cx="311.8" cy="236.5" r="1.9"/><circle cx="493.3" cy="262.9" r="1.9"/><circle cx="127.4" cy="236.2" r="1.9"/><circle cx="331.6" cy="235.3" r="1.9"/><circle cx="82.2" cy="215.1" r="1.9"/><circle cx="314.0" cy="232.2" r="1.9"/><circle cx="105.0" cy="203.1" r="1.9"/><circle cx="270.3" cy="240.6" r="1.9"/><circle cx="85.4" cy="224.7" r="1.9"/><circle cx="273.8" cy="228.9" r="1.9"/><circle cx="234.5" cy="220.1" r="1.9"/><circle cx="123.4" cy="210.4" r="1.9"/><circle cx="268.2" cy="251.9" r="1.9"/><circle cx="319.8" cy="247.0" r="1.9"/><circle cx="316.9" cy="245.2" r="1.9"/><circle cx="167.2" cy="207.4" r="1.9"/><circle cx="66.6" cy="207.9" r="1.9"/><circle cx="6.4" cy="211.5" r="1.9"/><circle cx="389.5" cy="259.9" r="1.9"/><circle cx="433.9" cy="259.6" r="1.9"/><circle cx="133.6" cy="210.7" r="1.9"/><circle cx="186.0" cy="196.3" r="1.9"/><circle cx="146.3" cy="201.5" r="1.9"/><circle cx="457.5" cy="253.1" r="1.9"/><circle cx="308.0" cy="218.8" r="1.9"/><circle cx="245.9" cy="219.5" r="1.9"/><circle cx="436.1" cy="257.1" r="1.9"/><circle cx="398.1" cy="259.2" r="1.9"/><circle cx="248.7" cy="217.4" r="1.9"/><circle cx="412.8" cy="245.7" r="1.9"/><circle cx="30.9" cy="228.0" r="1.9"/><circle cx="323.9" cy="254.5" r="1.9"/><circle cx="262.7" cy="228.8" r="1.9"/><circle cx="172.3" cy="212.9" r="1.9"/><circle cx="465.1" cy="247.1" r="1.9"/><circle cx="401.5" cy="251.4" r="1.9"/><circle cx="401.2" cy="251.6" r="1.9"/><circle cx="46.4" cy="240.3" r="1.9"/><circle cx="414.3" cy="252.3" r="1.9"/><circle cx="90.2" cy="195.2" r="1.9"/><circle cx="272.7" cy="229.3" r="1.9"/><circle cx="409.3" cy="255.7" r="1.9"/><circle cx="379.5" cy="248.1" r="1.9"/><circle cx="211.1" cy="199.7" r="1.9"/><circle cx="321.9" cy="242.2" r="1.9"/><circle cx="448.5" cy="258.3" r="1.9"/><circle cx="157.4" cy="246.1" r="1.9"/><circle cx="301.5" cy="254.1" r="1.9"/><circle cx="170.3" cy="211.3" r="1.9"/><circle cx="332.9" cy="233.2" r="1.9"/><circle cx="231.0" cy="240.1" r="1.9"/><circle cx="87.2" cy="203.6" r="1.9"/><circle cx="35.1" cy="203.4" r="1.9"/><circle cx="183.1" cy="190.2" r="1.9"/><circle cx="492.1" cy="255.6" r="1.9"/></g>
<polyline points="0.00,221.1 0.50,213.8 1.00,225.7 1.50,222.5 2.00,214.2 2.50,213.9 3.00,226.3 3.50,229.1 4.00,234.0 4.00,234.0 4.50,231.6 5.00,225.0 5.50,226.7 6.00,213.3 6.50,210.3 7.00,210.3 7.50,213.8 8.00,214.0 8.50,204.6 9.00,205.1 9.50,215.3 10.00,210.6 10.50,216.9 11.00,210.8 11.50,207.1 12.00,206.9 12.50,200.4 13.00,214.2 13.50,210.0 14.00,200.0 14.00,200.0 14.50,201.9 15.00,205.8 15.50,209.3 16.00,211.2 16.50,220.6 17.00,214.1 17.50,210.0 18.00,208.8 18.50,220.7 19.00,228.0 19.00,228.0 19.50,227.3 20.00,217.1 20.50,212.4 21.00,204.3 21.50,200.7 22.00,212.8 22.50,204.7 23.00,204.0 23.50,195.5 23.80,204.0 24.00,204.7 24.50,213.8 25.00,215.4 25.50,201.8 26.00,214.0 26.50,217.9 27.00,218.9 27.50,218.7 28.00,216.8 28.50,228.8 29.00,244.2 29.40,251.0 29.50,248.6 30.00,228.3 30.50,224.2 31.00,212.9 31.50,214.6 32.00,208.3 32.50,207.7 33.00,202.1 33.50,204.6 33.60,204.0 34.00,204.2 34.50,198.6 35.00,219.0 35.50,208.8 36.00,223.2 36.50,216.8 37.00,219.7 37.50,226.4 38.00,221.0 38.50,233.2 39.00,226.5 39.50,219.3 40.00,238.0 40.50,216.7 41.00,225.7 41.50,218.9 42.00,228.2 42.50,229.2 43.00,234.6 43.50,235.0 44.00,240.5 44.50,232.3 45.00,233.5 45.50,245.0 46.00,242.4 46.50,239.5 47.00,235.3 47.50,233.8 48.00,237.1 48.50,230.1 49.00,241.5 49.50,231.1 50.00,223.1 50.50,238.5 51.00,242.0 51.50,240.3 52.00,239.6 52.50,238.8 53.00,244.0 53.50,243.0 54.00,229.4 54.50,240.8 55.00,238.6 55.50,246.6 56.00,236.1 56.50,234.5 57.00,228.2 57.50,236.3 58.00,237.1 58.50,242.2 59.00,233.8 59.50,239.2 60.00,245.3 60.50,229.1 61.00,240.3 61.50,235.0 62.00,226.2 62.50,228.2 63.00,230.3 63.50,222.3 64.00,229.0 64.50,223.0 65.00,233.6 65.50,226.9 66.00,235.1 66.50,234.1 67.00,232.0 67.50,234.2 68.00,243.2 68.50,235.0 69.00,221.8 69.50,226.3 70.00,237.1 70.50,242.9 71.00,240.6 71.40,248.0 71.50,246.8 72.00,243.5 72.50,235.1 73.00,228.1 73.50,228.2 74.00,231.7 74.50,238.0 75.00,221.6 75.50,233.9 76.00,228.0 76.50,218.3 77.00,227.3 77.50,224.9 78.00,219.1 78.50,224.3 79.00,217.8 79.50,222.8 80.00,225.5 80.50,222.6 81.00,224.1 81.50,218.7 82.00,222.9 82.50,228.6 83.00,232.2 83.50,213.3 84.00,223.1 84.50,221.5 85.00,232.3 85.50,223.0 86.00,231.5 86.50,210.4 87.00,211.6 87.50,223.1 88.00,217.8 88.50,217.8 89.00,225.7 89.50,222.4 90.00,222.2 90.50,226.2 91.00,213.5 91.50,213.6 92.00,205.5 92.50,209.6 93.00,210.5 93.50,209.7 94.00,196.0 94.50,213.6 95.00,213.2 95.50,213.3 96.00,209.9 96.50,213.0 97.00,217.0 97.50,218.8 98.00,219.3 98.50,210.9 99.00,169.0 99.50,111.4 99.60,100.0 100.00,142.7 100.50,206.0 101.00,214.3 101.50,209.2 102.00,217.5 102.50,219.7 103.00,207.4 103.50,219.7 104.00,214.9 104.50,212.6 105.00,204.7 105.50,208.0 106.00,209.0 106.50,215.1 107.00,209.6 107.50,207.9 108.00,204.9 108.50,206.6 109.00,206.3 109.50,214.6 110.00,203.1 110.50,207.7 111.00,209.7 111.50,203.6 112.00,206.7 112.50,195.9 113.00,191.9 113.50,218.5 114.00,230.5 114.50,243.7 114.60,246.0 115.00,233.8 115.50,222.8 116.00,211.7 116.50,209.2 117.00,210.7 117.50,211.4 118.00,207.2 118.50,209.1 118.80,203.0 119.00,204.4 119.50,208.0 120.00,207.1 120.50,203.8 121.00,207.7 121.50,205.0 122.00,206.8 122.50,221.2 123.00,207.3 123.50,212.7 124.00,213.2 124.50,218.3 125.00,214.2 125.50,203.3 126.00,223.5 126.50,230.8 127.00,249.9 127.20,251.0 127.50,246.7 128.00,230.2 128.50,220.7 129.00,208.4 129.50,211.6 130.00,211.1 130.50,212.3 131.00,213.8 131.50,212.5 132.00,212.9 132.50,219.4 133.00,218.0 133.50,219.7 134.00,211.2 134.50,207.8 135.00,218.9 135.50,204.8 136.00,210.8 136.50,212.3 137.00,209.2 137.50,209.7 138.00,209.3 138.50,211.0 139.00,209.2 139.50,214.0 140.00,214.7 140.50,207.4 141.00,202.2 141.50,216.3 142.00,200.4 142.50,199.9 143.00,204.3 143.50,214.9 144.00,214.4 144.50,203.6 145.00,202.9 145.50,205.6 146.00,204.7 146.50,210.5 147.00,213.5 147.50,214.6 148.00,215.6 148.50,211.4 149.00,205.1 149.50,198.8 150.00,206.1 150.50,206.5 151.00,210.4 151.50,211.2 152.00,210.1 152.50,212.0 153.00,208.1 153.50,206.9 154.00,213.9 154.50,210.1 155.00,218.0 155.50,222.3 156.00,236.8 156.50,248.4 156.60,251.0 157.00,237.1 157.50,227.9 158.00,211.2 158.50,219.3 159.00,214.8 159.50,218.2 160.00,214.2 160.50,208.3 161.00,203.6 161.50,211.4 162.00,210.2 162.50,211.6 163.00,215.2 163.50,213.6 164.00,211.3 164.50,212.8 165.00,209.3 165.50,208.5 166.00,210.0 166.50,216.3 167.00,216.0 167.50,213.8 168.00,217.8 168.50,218.4 169.00,211.2 169.50,220.3 170.00,211.1 170.50,207.8 171.00,211.9 171.50,212.3 172.00,214.6 172.50,212.8 173.00,205.2 173.50,205.6 174.00,208.1 174.50,209.7 175.00,208.5 175.50,212.0 176.00,217.1 176.50,215.4 177.00,210.6 177.50,205.4 178.00,208.2 178.50,206.4 179.00,199.0 179.50,209.6 180.00,217.5 180.50,215.3 181.00,213.0 181.50,204.5 182.00,196.5 182.50,202.2 183.00,211.4 183.50,213.9 184.00,210.4 184.50,202.9 185.00,198.2 185.50,206.4 186.00,206.6 186.50,215.9 187.00,214.5 187.50,214.6 188.00,218.2 188.50,216.4 189.00,202.8 189.50,205.7 190.00,207.0 190.50,201.7 191.00,199.8 191.50,214.5 192.00,222.7 192.50,227.4 192.70,230.0 193.00,231.0 193.50,213.1 194.00,213.0 194.50,197.1 195.00,210.0 195.50,206.7 196.00,204.5 196.50,212.2 197.00,212.7 197.50,213.2 198.00,210.1 198.50,200.8 198.80,200.0 199.00,201.5 199.50,201.0 200.00,207.3 200.50,207.2 201.00,206.3 201.50,198.0 202.00,202.3 202.50,214.0 203.00,220.9 203.40,220.0 203.50,219.1 204.00,216.3 204.50,210.0 205.00,209.5 205.50,214.0 206.00,212.1 206.50,212.2 207.00,210.2 207.50,219.0 208.00,217.7 208.50,208.6 209.00,199.1 209.50,191.0 209.50,191.0 210.00,198.1 210.50,200.4 211.00,208.4 211.50,219.4 212.00,237.6 212.50,246.5 212.60,249.0 213.00,234.8 213.50,228.8 214.00,217.1 214.50,217.3 215.00,219.8 215.50,224.3 216.00,219.5 216.50,224.4 217.00,217.5 217.50,237.6 217.60,240.0 218.00,227.4 218.50,225.8 219.00,209.8 219.50,198.6 220.00,195.6 220.50,201.5 221.00,203.9 221.50,206.2 222.00,212.2 222.50,214.8 223.00,212.8 223.50,228.4 224.00,241.0 224.00,241.0 224.50,227.1 225.00,219.7 225.50,196.9 226.00,188.2 226.40,178.0 226.50,180.6 227.00,194.2 227.50,209.1 228.00,202.0 228.50,225.9 229.00,239.0 229.30,254.0 229.50,247.0 230.00,232.0 230.50,236.4 231.00,246.0 231.00,246.0 231.50,238.6 232.00,222.4 232.50,227.6 233.00,219.5 233.50,224.2 234.00,248.0 234.00,248.0 234.50,227.4 235.00,211.7 235.50,215.7 236.00,210.1 236.50,209.9 237.00,214.0 237.50,207.5 238.00,215.2 238.50,214.1 239.00,209.2 239.50,205.0 240.00,164.1 240.40,134.0 240.50,142.0 241.00,180.1 241.50,215.6 242.00,214.5 242.50,218.0 243.00,216.3 243.50,204.3 244.00,167.7 244.40,134.0 244.50,142.3 245.00,186.1 245.50,219.0 246.00,215.1 246.50,217.5 247.00,216.3 247.50,219.2 248.00,218.5 248.50,222.9 249.00,222.0 249.50,227.8 250.00,230.3 250.50,243.0 251.00,264.0 251.00,264.0 251.50,246.4 252.00,234.8 252.50,223.1 253.00,224.8 253.50,227.2 254.00,204.0 254.50,162.1 254.90,126.0 255.00,134.3 255.50,176.1 256.00,215.7 256.50,226.1 257.00,229.3 257.50,224.3 258.00,229.0 258.50,232.9 259.00,230.3 259.50,244.6 260.00,252.0 260.00,252.0 260.50,241.2 261.00,232.7 261.50,225.8 262.00,232.1 262.50,232.7 263.00,234.7 263.50,227.5 264.00,219.7 264.40,207.0 264.50,209.1 265.00,217.2 265.50,227.6 266.00,238.2 266.50,243.5 267.00,251.4 267.50,264.7 267.60,267.0 268.00,259.2 268.50,250.1 269.00,235.6 269.50,235.2 270.00,234.4 270.50,230.7 271.00,229.5 271.50,234.3 272.00,231.2 272.50,229.6 273.00,225.0 273.50,229.2 274.00,232.2 274.50,215.5 275.00,198.5 275.50,181.4 275.60,178.0 276.00,189.3 276.50,207.1 277.00,222.4 277.50,230.7 278.00,232.9 278.50,230.9 279.00,230.7 279.50,235.4 280.00,239.6 280.50,243.4 281.00,235.5 281.50,238.1 282.00,246.7 282.50,252.2 283.00,265.0 283.00,265.0 283.50,253.2 284.00,245.5 284.50,234.7 285.00,232.0 285.50,231.1 286.00,220.0 286.50,209.8 286.80,203.0 287.00,207.6 287.50,219.5 288.00,232.5 288.50,231.6 289.00,234.4 289.50,233.8 290.00,232.0 290.50,234.6 291.00,233.7 291.50,236.3 292.00,235.0 292.50,234.5 293.00,234.0 293.50,238.3 294.00,234.7 294.50,236.2 295.00,235.4 295.50,238.1 296.00,233.0 296.50,234.9 297.00,232.9 297.50,231.6 298.00,234.2 298.50,229.9 299.00,232.5 299.50,240.6 300.00,239.5 300.50,247.7 301.00,262.5 301.20,267.0 301.50,263.1 302.00,250.5 302.50,238.8 303.00,238.4 303.50,238.2 304.00,243.5 304.50,239.9 305.00,235.8 305.50,235.3 306.00,230.3 306.50,224.6 307.00,223.6 307.50,214.6 307.60,213.0 308.00,220.6 308.50,224.4 309.00,234.7 309.50,232.5 310.00,237.3 310.50,226.5 311.00,233.8 311.50,238.2 312.00,241.6 312.50,235.5 313.00,235.8 313.50,234.8 314.00,232.4 314.50,235.4 315.00,232.1 315.50,233.4 316.00,241.1 316.50,239.1 317.00,243.1 317.50,247.7 318.00,252.5 318.50,259.5 318.80,267.0 319.00,262.6 319.50,252.5 320.00,238.9 320.50,230.6 321.00,232.4 321.50,236.8 322.00,239.4 322.50,239.2 323.00,238.6 323.50,246.7 324.00,239.3 324.50,240.2 325.00,237.5 325.50,238.5 326.00,240.6 326.50,247.8 326.80,255.0 327.00,251.8 327.50,242.5 328.00,242.3 328.50,239.2 329.00,233.6 329.50,237.6 330.00,234.4 330.50,236.6 331.00,236.2 331.50,240.4 332.00,247.9 332.50,241.6 333.00,240.0 333.50,250.9 334.00,264.0 334.00,264.0 334.50,253.9 335.00,244.3 335.50,232.1 336.00,229.6 336.50,231.8 337.00,237.5 337.50,242.0 338.00,240.8 338.50,240.1 339.00,236.2 339.50,234.8 340.00,229.8 340.50,235.2 341.00,237.5 341.50,233.6 342.00,222.8 342.30,218.0 342.50,221.6 343.00,230.2 343.50,239.2 344.00,243.4 344.50,238.4 345.00,239.9 345.50,241.0 346.00,238.8 346.50,241.2 347.00,242.6 347.50,242.1 348.00,239.7 348.50,241.6 349.00,241.0 349.50,240.3 350.00,247.0 350.50,248.0 351.00,243.7 351.50,246.0 352.00,244.3 352.50,246.2 353.00,243.6 353.50,245.3 354.00,242.2 354.50,242.1 355.00,245.8 355.50,244.7 356.00,253.4 356.50,257.7 357.00,265.0 357.00,265.0 357.50,258.0 358.00,252.5 358.50,243.5 359.00,245.8 359.50,242.8 360.00,242.1 360.50,244.5 361.00,246.2 361.50,248.4 362.00,224.3 362.50,198.3 362.60,193.0 363.00,214.4 363.50,240.3 364.00,246.5 364.50,248.0 365.00,247.2 365.50,247.0 366.00,247.1 366.50,246.3 367.00,247.9 367.50,248.4 368.00,242.2 368.50,245.1 369.00,238.3 369.50,241.1 370.00,246.6 370.50,247.0 371.00,251.1 371.50,248.8 372.00,245.7 372.50,248.0 373.00,248.6 373.50,253.7 374.00,255.7 374.50,261.1 374.60,262.0 375.00,256.2 375.50,252.2 376.00,251.3 376.50,250.7 377.00,246.3 377.50,249.5 378.00,248.2 378.50,249.6 379.00,250.8 379.50,249.4 380.00,249.6 380.50,246.8 381.00,249.9 381.50,252.4 382.00,249.4 382.50,251.7 383.00,252.7 383.50,256.5 384.00,251.5 384.50,253.3 385.00,250.8 385.50,250.5 386.00,250.9 386.50,249.1 387.00,253.2 387.50,251.9 388.00,253.6 388.50,254.0 389.00,251.9 389.50,249.4 390.00,249.5 390.50,252.2 391.00,256.4 391.50,262.9 392.00,265.8 392.20,268.0 392.50,262.9 393.00,259.4 393.50,253.8 394.00,250.4 394.50,251.6 395.00,251.0 395.50,253.2 396.00,252.3 396.50,252.2 397.00,254.2 397.50,250.3 398.00,251.7 398.50,250.3 399.00,250.4 399.50,250.5 400.00,250.5 400.50,251.2 401.00,250.2 401.50,252.7 402.00,250.5 402.50,251.0 403.00,252.5 403.50,256.7 404.00,257.7 404.50,256.0 405.00,258.6 405.50,255.3 406.00,251.5 406.50,253.3 407.00,250.9 407.50,250.6 408.00,249.1 408.50,252.8 409.00,253.4 409.50,251.4 410.00,253.9 410.50,253.7 411.00,254.0 411.50,253.7 412.00,249.1 412.50,248.2 413.00,248.5 413.50,249.5 414.00,252.6 414.50,251.6 415.00,253.8 415.50,249.9 416.00,249.5 416.50,246.3 417.00,247.9 417.50,252.0 418.00,253.8 418.50,257.1 419.00,255.6 419.50,253.4 420.00,255.6 420.50,263.0 421.00,271.0 421.30,272.0 421.50,269.6 422.00,262.9 422.50,260.1 423.00,253.1 423.50,253.0 424.00,248.6 424.50,246.7 425.00,249.1 425.50,251.5 426.00,251.8 426.50,252.8 427.00,255.4 427.50,254.3 428.00,251.1 428.50,248.9 429.00,249.8 429.50,247.3 430.00,252.7 430.50,253.6 431.00,256.0 431.50,255.7 432.00,256.7 432.50,256.1 433.00,255.3 433.50,256.6 434.00,254.0 434.50,248.2 435.00,235.1 435.20,230.0 435.50,238.2 436.00,248.1 436.50,256.5 437.00,256.4 437.50,257.1 438.00,255.9 438.50,246.9 439.00,227.2 439.20,220.0 439.50,232.2 440.00,249.7 440.50,251.2 441.00,256.2 441.50,256.5 442.00,256.3 442.50,254.7 443.00,257.7 443.50,255.7 444.00,256.2 444.50,256.9 445.00,257.8 445.50,255.2 446.00,254.0 446.50,255.7 447.00,255.8 447.50,253.1 448.00,255.3 448.50,256.8 449.00,254.3 449.50,258.7 450.00,254.9 450.50,256.0 451.00,251.3 451.50,250.2 452.00,251.3 452.50,253.8 453.00,253.6 453.50,256.2 454.00,258.5 454.50,257.2 455.00,258.2 455.50,251.0 456.00,256.7 456.50,256.2 457.00,255.5 457.50,255.4 458.00,256.8 458.50,257.7 459.00,256.9 459.50,259.9 460.00,257.5 460.50,256.7 461.00,256.4 461.50,256.1 462.00,257.6 462.50,241.1 463.00,214.0 463.20,203.0 463.50,218.2 464.00,247.4 464.50,256.9 465.00,257.2 465.50,259.6 466.00,259.7 466.50,257.5 467.00,260.7 467.50,257.5 468.00,260.0 468.50,258.5 469.00,257.6 469.50,257.8 470.00,256.4 470.50,256.5 471.00,257.0 471.50,257.9 472.00,257.0 472.50,259.2 473.00,260.1 473.50,257.4 474.00,259.1 474.50,260.3 475.00,261.2 475.50,260.1 476.00,266.6 476.50,263.2 477.00,264.9 477.50,262.8 478.00,264.7 478.50,258.4 479.00,260.9 479.50,259.7 480.00,257.7 480.50,259.1 481.00,256.0 481.50,255.1 482.00,252.6 482.50,251.4 483.00,257.9 483.50,260.6 484.00,262.9 484.50,262.6 485.00,261.1 485.50,262.4 486.00,261.3 486.50,255.9 487.00,260.1 487.50,258.9 488.00,257.9 488.50,257.8 489.00,259.4 489.50,262.3 490.00,261.3 490.50,262.2 491.00,260.6 491.50,258.1 492.00,257.1 492.50,259.7 493.00,259.6 493.50,261.3 494.00,262.6 494.50,261.8 495.00,261.7 495.50,261.5 496.00,265.4 496.50,267.2 497.00,270.0 497.00,270.0 497.50,267.5 498.00,265.7 498.50,263.4 499.00,261.8 499.50,259.6 500.00,257.9" fill="none" stroke="#2626cc" stroke-width="2.4" stroke-linejoin="round"/>
<g fill="#cc2820" stroke="#7a1410" stroke-width="0.45"><circle cx="198.2" cy="207.3" r="1.9"/><circle cx="388.6" cy="254.3" r="1.9"/><circle cx="382.8" cy="255.8" r="1.9"/><circle cx="289.9" cy="232.5" r="1.9"/><circle cx="144.3" cy="216.9" r="1.9"/><circle cx="345.3" cy="245.3" r="1.9"/><circle cx="189.8" cy="208.3" r="1.9"/><circle cx="2.9" cy="215.1" r="1.9"/><circle cx="138.6" cy="212.4" r="1.9"/><circle cx="368.4" cy="244.1" r="1.9"/><circle cx="358.8" cy="250.9" r="1.9"/><circle cx="425.0" cy="242.4" r="1.9"/><circle cx="291.6" cy="249.9" r="1.9"/><circle cx="266.4" cy="248.8" r="1.9"/><circle cx="336.5" cy="244.8" r="1.9"/><circle cx="300.3" cy="246.9" r="1.9"/><circle cx="323.6" cy="243.8" r="1.9"/><circle cx="289.3" cy="232.7" r="1.9"/><circle cx="418.0" cy="244.8" r="1.9"/><circle cx="223.6" cy="228.5" r="1.9"/><circle cx="155.8" cy="238.8" r="1.9"/><circle cx="453.0" cy="257.0" r="1.9"/><circle cx="471.5" cy="259.1" r="1.9"/><circle cx="274.3" cy="219.0" r="1.9"/><circle cx="108.1" cy="204.6" r="1.9"/><circle cx="296.3" cy="233.2" r="1.9"/><circle cx="75.6" cy="227.6" r="1.9"/><circle cx="162.7" cy="217.4" r="1.9"/><circle cx="434.4" cy="248.9" r="1.9"/><circle cx="332.4" cy="247.6" r="1.9"/><circle cx="253.0" cy="222.0" r="1.9"/><circle cx="30.1" cy="227.9" r="1.9"/><circle cx="431.6" cy="255.9" r="1.9"/><circle cx="357.9" cy="260.2" r="1.9"/><circle cx="237.9" cy="205.4" r="1.9"/><circle cx="338.5" cy="230.6" r="1.9"/><circle cx="426.8" cy="258.1" r="1.9"/><circle cx="290.8" cy="238.7" r="1.9"/><circle cx="496.8" cy="270.9" r="1.9"/><circle cx="485.3" cy="265.0" r="1.9"/><circle cx="489.3" cy="251.3" r="1.9"/><circle cx="478.6" cy="255.5" r="1.9"/><circle cx="190.2" cy="228.9" r="1.9"/><circle cx="48.0" cy="253.9" r="1.9"/><circle cx="366.0" cy="248.4" r="1.9"/><circle cx="219.6" cy="208.7" r="1.9"/><circle cx="301.9" cy="265.0" r="1.9"/><circle cx="279.4" cy="229.8" r="1.9"/><circle cx="428.1" cy="246.7" r="1.9"/><circle cx="127.0" cy="253.4" r="1.9"/><circle cx="406.0" cy="251.7" r="1.9"/><circle cx="225.9" cy="192.6" r="1.9"/><circle cx="29.5" cy="244.7" r="1.9"/><circle cx="178.7" cy="213.2" r="1.9"/><circle cx="57.0" cy="238.1" r="1.9"/><circle cx="73.2" cy="221.0" r="1.9"/><circle cx="336.8" cy="242.5" r="1.9"/><circle cx="121.7" cy="199.7" r="1.9"/><circle cx="481.7" cy="260.4" r="1.9"/><circle cx="122.3" cy="199.3" r="1.9"/><circle cx="6.1" cy="225.7" r="1.9"/><circle cx="42.1" cy="240.9" r="1.9"/><circle cx="473.9" cy="255.3" r="1.9"/><circle cx="20.1" cy="217.6" r="1.9"/><circle cx="37.9" cy="232.2" r="1.9"/><circle cx="173.1" cy="210.0" r="1.9"/><circle cx="304.7" cy="239.4" r="1.9"/><circle cx="113.5" cy="216.0" r="1.9"/><circle cx="408.6" cy="239.2" r="1.9"/><circle cx="62.7" cy="234.3" r="1.9"/><circle cx="435.8" cy="247.6" r="1.9"/><circle cx="283.0" cy="259.5" r="1.9"/><circle cx="242.9" cy="210.2" r="1.9"/><circle cx="107.0" cy="205.4" r="1.9"/><circle cx="173.5" cy="218.8" r="1.9"/><circle cx="419.1" cy="255.9" r="1.9"/><circle cx="250.0" cy="229.8" r="1.9"/><circle cx="31.9" cy="209.0" r="1.9"/><circle cx="335.9" cy="234.4" r="1.9"/><circle cx="179.5" cy="187.1" r="1.9"/><circle cx="382.3" cy="258.8" r="1.9"/><circle cx="69.8" cy="227.9" r="1.9"/><circle cx="410.7" cy="251.4" r="1.9"/><circle cx="321.5" cy="241.4" r="1.9"/><circle cx="136.0" cy="204.5" r="1.9"/><circle cx="248.1" cy="225.7" r="1.9"/><circle cx="55.8" cy="230.3" r="1.9"/><circle cx="402.2" cy="257.5" r="1.9"/><circle cx="342.7" cy="220.7" r="1.9"/><circle cx="460.8" cy="261.4" r="1.9"/><circle cx="176.8" cy="209.1" r="1.9"/><circle cx="115.5" cy="223.6" r="1.9"/><circle cx="49.5" cy="234.5" r="1.9"/><circle cx="344.7" cy="235.7" r="1.9"/><circle cx="101.6" cy="205.8" r="1.9"/><circle cx="110.1" cy="201.1" r="1.9"/><circle cx="56.6" cy="222.2" r="1.9"/><circle cx="164.3" cy="208.3" r="1.9"/><circle cx="422.0" cy="253.0" r="1.9"/><circle cx="489.9" cy="260.8" r="1.9"/><circle cx="239.7" cy="194.0" r="1.9"/><circle cx="157.4" cy="252.3" r="1.9"/><circle cx="193.6" cy="213.7" r="1.9"/><circle cx="259.1" cy="241.4" r="1.9"/><circle cx="109.2" cy="207.8" r="1.9"/><circle cx="464.3" cy="263.7" r="1.9"/><circle cx="64.0" cy="240.7" r="1.9"/><circle cx="-1.0" cy="205.8" r="1.9"/><circle cx="412.4" cy="247.8" r="1.9"/><circle cx="67.0" cy="236.1" r="1.9"/><circle cx="328.8" cy="235.4" r="1.9"/><circle cx="361.2" cy="244.5" r="1.9"/><circle cx="469.4" cy="260.0" r="1.9"/><circle cx="8.0" cy="210.1" r="1.9"/><circle cx="303.3" cy="246.6" r="1.9"/><circle cx="285.3" cy="229.9" r="1.9"/><circle cx="175.1" cy="228.1" r="1.9"/><circle cx="145.7" cy="212.8" r="1.9"/><circle cx="74.0" cy="234.3" r="1.9"/><circle cx="172.9" cy="206.9" r="1.9"/><circle cx="383.8" cy="261.1" r="1.9"/><circle cx="496.3" cy="266.6" r="1.9"/><circle cx="322.4" cy="240.9" r="1.9"/><circle cx="114.3" cy="245.2" r="1.9"/><circle cx="194.3" cy="199.4" r="1.9"/><circle cx="406.9" cy="249.8" r="1.9"/><circle cx="131.6" cy="222.6" r="1.9"/><circle cx="84.4" cy="228.9" r="1.9"/><circle cx="457.9" cy="260.7" r="1.9"/><circle cx="356.8" cy="260.1" r="1.9"/><circle cx="80.6" cy="225.2" r="1.9"/><circle cx="408.3" cy="249.7" r="1.9"/><circle cx="265.4" cy="226.9" r="1.9"/><circle cx="400.4" cy="252.9" r="1.9"/><circle cx="287.2" cy="215.5" r="1.9"/><circle cx="421.5" cy="277.6" r="1.9"/><circle cx="317.2" cy="247.1" r="1.9"/><circle cx="495.9" cy="271.8" r="1.9"/><circle cx="158.2" cy="208.0" r="1.9"/><circle cx="399.5" cy="240.1" r="1.9"/><circle cx="365.1" cy="249.3" r="1.9"/><circle cx="98.5" cy="194.1" r="1.9"/><circle cx="408.9" cy="252.1" r="1.9"/><circle cx="497.2" cy="264.4" r="1.9"/><circle cx="4.1" cy="216.4" r="1.9"/><circle cx="68.6" cy="234.0" r="1.9"/><circle cx="290.3" cy="229.6" r="1.9"/><circle cx="385.8" cy="251.6" r="1.9"/><circle cx="170.7" cy="219.9" r="1.9"/><circle cx="25.8" cy="216.0" r="1.9"/><circle cx="457.2" cy="259.9" r="1.9"/><circle cx="249.2" cy="225.2" r="1.9"/><circle cx="133.4" cy="210.7" r="1.9"/><circle cx="319.4" cy="246.7" r="1.9"/><circle cx="129.0" cy="221.9" r="1.9"/><circle cx="80.3" cy="225.5" r="1.9"/><circle cx="359.1" cy="253.5" r="1.9"/><circle cx="58.1" cy="241.0" r="1.9"/><circle cx="186.8" cy="211.6" r="1.9"/><circle cx="120.7" cy="210.6" r="1.9"/><circle cx="13.1" cy="202.6" r="1.9"/><circle cx="480.7" cy="253.0" r="1.9"/><circle cx="91.1" cy="205.6" r="1.9"/><circle cx="191.9" cy="210.8" r="1.9"/><circle cx="32.3" cy="213.2" r="1.9"/><circle cx="309.3" cy="233.3" r="1.9"/><circle cx="195.3" cy="208.6" r="1.9"/><circle cx="5.8" cy="203.3" r="1.9"/><circle cx="362.9" cy="193.0" r="1.9"/><circle cx="299.8" cy="242.7" r="1.9"/><circle cx="76.1" cy="221.3" r="1.9"/><circle cx="379.8" cy="245.7" r="1.9"/><circle cx="280.8" cy="237.3" r="1.9"/><circle cx="156.1" cy="231.0" r="1.9"/><circle cx="406.5" cy="254.0" r="1.9"/><circle cx="366.3" cy="260.1" r="1.9"/><circle cx="487.5" cy="264.8" r="1.9"/><circle cx="384.2" cy="254.6" r="1.9"/><circle cx="477.9" cy="260.6" r="1.9"/><circle cx="343.7" cy="242.1" r="1.9"/><circle cx="164.7" cy="206.5" r="1.9"/><circle cx="448.2" cy="254.0" r="1.9"/><circle cx="154.7" cy="207.6" r="1.9"/><circle cx="278.2" cy="235.2" r="1.9"/><circle cx="465.6" cy="257.7" r="1.9"/><circle cx="258.2" cy="239.6" r="1.9"/><circle cx="284.1" cy="241.0" r="1.9"/><circle cx="213.0" cy="234.8" r="1.9"/><circle cx="329.6" cy="241.5" r="1.9"/><circle cx="276.8" cy="237.6" r="1.9"/><circle cx="228.9" cy="241.5" r="1.9"/><circle cx="11.3" cy="209.4" r="1.9"/><circle cx="437.0" cy="248.5" r="1.9"/><circle cx="294.0" cy="240.9" r="1.9"/><circle cx="200.3" cy="203.8" r="1.9"/><circle cx="8.9" cy="199.5" r="1.9"/><circle cx="220.3" cy="192.2" r="1.9"/><circle cx="347.8" cy="245.5" r="1.9"/><circle cx="279.0" cy="229.5" r="1.9"/><circle cx="481.3" cy="252.5" r="1.9"/><circle cx="3.7" cy="222.5" r="1.9"/><circle cx="409.8" cy="257.7" r="1.9"/><circle cx="75.3" cy="228.3" r="1.9"/><circle cx="108.8" cy="202.8" r="1.9"/><circle cx="430.8" cy="258.6" r="1.9"/><circle cx="202.7" cy="222.2" r="1.9"/><circle cx="301.1" cy="260.8" r="1.9"/><circle cx="48.9" cy="239.5" r="1.9"/><circle cx="414.7" cy="249.6" r="1.9"/><circle cx="413.9" cy="256.4" r="1.9"/><circle cx="456.0" cy="254.8" r="1.9"/><circle cx="283.3" cy="255.2" r="1.9"/><circle cx="118.2" cy="201.3" r="1.9"/><circle cx="86.2" cy="230.3" r="1.9"/><circle cx="39.3" cy="224.8" r="1.9"/><circle cx="135.0" cy="219.7" r="1.9"/><circle cx="269.0" cy="232.2" r="1.9"/><circle cx="451.8" cy="251.7" r="1.9"/><circle cx="345.7" cy="233.5" r="1.9"/><circle cx="29.7" cy="245.4" r="1.9"/><circle cx="54.4" cy="256.1" r="1.9"/><circle cx="431.3" cy="252.5" r="1.9"/><circle cx="335.0" cy="239.2" r="1.9"/><circle cx="196.4" cy="207.6" r="1.9"/><circle cx="395.7" cy="238.9" r="1.9"/><circle cx="199.4" cy="193.7" r="1.9"/><circle cx="111.8" cy="206.2" r="1.9"/><circle cx="203.5" cy="234.4" r="1.9"/><circle cx="33.0" cy="221.2" r="1.9"/><circle cx="429.0" cy="246.2" r="1.9"/><circle cx="89.0" cy="236.9" r="1.9"/><circle cx="447.3" cy="254.0" r="1.9"/><circle cx="370.0" cy="248.7" r="1.9"/><circle cx="456.8" cy="262.8" r="1.9"/><circle cx="71.0" cy="257.8" r="1.9"/><circle cx="222.8" cy="215.6" r="1.9"/><circle cx="101.3" cy="217.3" r="1.9"/><circle cx="21.8" cy="197.5" r="1.9"/><circle cx="224.0" cy="251.9" r="1.9"/><circle cx="183.7" cy="213.4" r="1.9"/><circle cx="430.3" cy="260.1" r="1.9"/><circle cx="433.4" cy="254.7" r="1.9"/><circle cx="459.3" cy="251.3" r="1.9"/><circle cx="159.7" cy="215.2" r="1.9"/><circle cx="366.9" cy="252.1" r="1.9"/><circle cx="397.4" cy="253.9" r="1.9"/><circle cx="372.4" cy="245.3" r="1.9"/><circle cx="260.8" cy="226.1" r="1.9"/><circle cx="90.8" cy="215.5" r="1.9"/><circle cx="318.0" cy="241.5" r="1.9"/><circle cx="206.2" cy="198.7" r="1.9"/><circle cx="93.2" cy="224.0" r="1.9"/><circle cx="217.8" cy="232.9" r="1.9"/><circle cx="28.7" cy="254.1" r="1.9"/><circle cx="493.8" cy="256.9" r="1.9"/><circle cx="422.5" cy="264.0" r="1.9"/><circle cx="143.4" cy="223.4" r="1.9"/><circle cx="400.8" cy="247.6" r="1.9"/><circle cx="100.9" cy="214.2" r="1.9"/><circle cx="199.8" cy="214.8" r="1.9"/><circle cx="189.3" cy="203.5" r="1.9"/><circle cx="445.8" cy="261.6" r="1.9"/><circle cx="112.3" cy="210.6" r="1.9"/><circle cx="26.8" cy="208.2" r="1.9"/><circle cx="79.9" cy="221.5" r="1.9"/><circle cx="48.6" cy="241.7" r="1.9"/><circle cx="452.5" cy="255.9" r="1.9"/><circle cx="187.4" cy="218.3" r="1.9"/><circle cx="180.9" cy="213.3" r="1.9"/><circle cx="97.6" cy="213.1" r="1.9"/><circle cx="389.2" cy="245.3" r="1.9"/><circle cx="72.3" cy="243.2" r="1.9"/><circle cx="395.2" cy="240.7" r="1.9"/><circle cx="204.7" cy="214.2" r="1.9"/><circle cx="206.7" cy="203.0" r="1.9"/><circle cx="499.5" cy="264.5" r="1.9"/><circle cx="171.9" cy="225.1" r="1.9"/><circle cx="37.1" cy="208.8" r="1.9"/><circle cx="209.8" cy="186.2" r="1.9"/><circle cx="304.4" cy="249.9" r="1.9"/><circle cx="449.4" cy="262.6" r="1.9"/><circle cx="195.8" cy="211.4" r="1.9"/><circle cx="497.6" cy="268.1" r="1.9"/><circle cx="47.7" cy="223.7" r="1.9"/><circle cx="208.1" cy="222.1" r="1.9"/><circle cx="432.0" cy="251.4" r="1.9"/><circle cx="201.4" cy="215.2" r="1.9"/><circle cx="440.4" cy="261.1" r="1.9"/><circle cx="118.6" cy="197.1" r="1.9"/><circle cx="156.8" cy="249.6" r="1.9"/><circle cx="358.2" cy="256.0" r="1.9"/><circle cx="160.2" cy="209.8" r="1.9"/><circle cx="283.6" cy="249.8" r="1.9"/><circle cx="83.0" cy="234.5" r="1.9"/><circle cx="40.5" cy="212.0" r="1.9"/><circle cx="5.3" cy="224.5" r="1.9"/><circle cx="244.2" cy="133.3" r="1.9"/><circle cx="403.6" cy="258.5" r="1.9"/><circle cx="205.4" cy="218.1" r="1.9"/><circle cx="312.1" cy="246.1" r="1.9"/><circle cx="328.0" cy="227.1" r="1.9"/><circle cx="186.4" cy="212.7" r="1.9"/><circle cx="165.1" cy="200.8" r="1.9"/><circle cx="191.0" cy="199.1" r="1.9"/><circle cx="23.7" cy="187.4" r="1.9"/><circle cx="324.8" cy="233.1" r="1.9"/><circle cx="243.2" cy="218.2" r="1.9"/><circle cx="140.6" cy="206.0" r="1.9"/><circle cx="468.6" cy="264.8" r="1.9"/><circle cx="93.7" cy="193.3" r="1.9"/><circle cx="470.0" cy="258.5" r="1.9"/><circle cx="312.7" cy="232.0" r="1.9"/><circle cx="316.3" cy="246.7" r="1.9"/><circle cx="215.0" cy="222.7" r="1.9"/><circle cx="315.5" cy="226.9" r="1.9"/><circle cx="116.7" cy="221.0" r="1.9"/><circle cx="471.0" cy="256.5" r="1.9"/><circle cx="310.2" cy="225.5" r="1.9"/><circle cx="303.9" cy="247.5" r="1.9"/><circle cx="109.8" cy="206.1" r="1.9"/><circle cx="228.6" cy="224.2" r="1.9"/><circle cx="10.6" cy="212.9" r="1.9"/><circle cx="252.7" cy="219.0" r="1.9"/><circle cx="53.5" cy="237.3" r="1.9"/><circle cx="51.3" cy="230.7" r="1.9"/><circle cx="190.6" cy="203.5" r="1.9"/><circle cx="74.3" cy="236.7" r="1.9"/><circle cx="217.3" cy="227.4" r="1.9"/><circle cx="327.1" cy="242.5" r="1.9"/><circle cx="47.4" cy="235.9" r="1.9"/><circle cx="80.9" cy="234.4" r="1.9"/><circle cx="411.6" cy="253.7" r="1.9"/><circle cx="121.2" cy="206.7" r="1.9"/><circle cx="36.0" cy="226.9" r="1.9"/><circle cx="153.3" cy="193.6" r="1.9"/><circle cx="224.3" cy="221.6" r="1.9"/><circle cx="266.1" cy="241.8" r="1.9"/><circle cx="134.0" cy="228.6" r="1.9"/><circle cx="474.9" cy="262.4" r="1.9"/><circle cx="60.3" cy="226.1" r="1.9"/><circle cx="161.8" cy="211.6" r="1.9"/><circle cx="7.0" cy="199.1" r="1.9"/><circle cx="236.6" cy="209.6" r="1.9"/><circle cx="300.6" cy="248.0" r="1.9"/><circle cx="177.4" cy="211.2" r="1.9"/><circle cx="89.3" cy="241.6" r="1.9"/><circle cx="193.0" cy="227.2" r="1.9"/><circle cx="331.0" cy="230.4" r="1.9"/><circle cx="499.0" cy="260.1" r="1.9"/><circle cx="174.8" cy="219.7" r="1.9"/><circle cx="483.9" cy="255.7" r="1.9"/><circle cx="394.5" cy="244.2" r="1.9"/><circle cx="79.4" cy="243.0" r="1.9"/><circle cx="380.7" cy="251.3" r="1.9"/><circle cx="146.7" cy="213.6" r="1.9"/><circle cx="350.0" cy="244.4" r="1.9"/><circle cx="337.1" cy="233.6" r="1.9"/><circle cx="258.7" cy="240.4" r="1.9"/><circle cx="218.4" cy="210.5" r="1.9"/><circle cx="83.5" cy="230.3" r="1.9"/><circle cx="151.1" cy="209.2" r="1.9"/><circle cx="384.9" cy="260.4" r="1.9"/><circle cx="233.3" cy="231.7" r="1.9"/><circle cx="438.4" cy="246.3" r="1.9"/><circle cx="423.3" cy="247.9" r="1.9"/><circle cx="95.3" cy="219.0" r="1.9"/><circle cx="120.2" cy="209.9" r="1.9"/><circle cx="61.8" cy="237.7" r="1.9"/><circle cx="308.7" cy="235.4" r="1.9"/><circle cx="61.2" cy="238.5" r="1.9"/><circle cx="10.2" cy="213.2" r="1.9"/><circle cx="459.7" cy="269.2" r="1.9"/><circle cx="55.5" cy="239.9" r="1.9"/><circle cx="52.5" cy="245.8" r="1.9"/><circle cx="64.3" cy="232.0" r="1.9"/><circle cx="259.6" cy="247.2" r="1.9"/><circle cx="334.2" cy="252.6" r="1.9"/><circle cx="56.1" cy="229.2" r="1.9"/><circle cx="57.5" cy="250.8" r="1.9"/><circle cx="119.6" cy="208.9" r="1.9"/><circle cx="221.7" cy="231.4" r="1.9"/><circle cx="177.7" cy="189.4" r="1.9"/><circle cx="76.6" cy="225.6" r="1.9"/><circle cx="21.5" cy="213.3" r="1.9"/><circle cx="219.9" cy="200.2" r="1.9"/><circle cx="292.2" cy="223.9" r="1.9"/><circle cx="212.2" cy="240.3" r="1.9"/><circle cx="333.8" cy="259.1" r="1.9"/><circle cx="242.3" cy="236.6" r="1.9"/><circle cx="141.0" cy="207.8" r="1.9"/><circle cx="374.9" cy="265.8" r="1.9"/><circle cx="149.7" cy="197.1" r="1.9"/><circle cx="369.0" cy="238.0" r="1.9"/><circle cx="222.2" cy="224.0" r="1.9"/><circle cx="9.6" cy="219.6" r="1.9"/><circle cx="185.6" cy="196.9" r="1.9"/><circle cx="180.3" cy="211.2" r="1.9"/><circle cx="74.7" cy="222.7" r="1.9"/><circle cx="445.1" cy="252.4" r="1.9"/><circle cx="31.0" cy="264.3" r="1.9"/><circle cx="208.8" cy="193.4" r="1.9"/><circle cx="462.2" cy="257.2" r="1.9"/><circle cx="43.3" cy="229.7" r="1.9"/><circle cx="455.7" cy="247.0" r="1.9"/><circle cx="180.0" cy="205.0" r="1.9"/><circle cx="136.4" cy="208.7" r="1.9"/><circle cx="392.3" cy="262.7" r="1.9"/><circle cx="103.1" cy="204.7" r="1.9"/><circle cx="461.1" cy="253.8" r="1.9"/><circle cx="53.1" cy="248.1" r="1.9"/><circle cx="313.2" cy="235.5" r="1.9"/><circle cx="288.0" cy="237.4" r="1.9"/><circle cx="363.8" cy="232.1" r="1.9"/><circle cx="267.4" cy="257.0" r="1.9"/><circle cx="28.1" cy="217.6" r="1.9"/><circle cx="88.0" cy="240.9" r="1.9"/><circle cx="136.8" cy="208.7" r="1.9"/><circle cx="456.5" cy="254.9" r="1.9"/><circle cx="65.8" cy="247.8" r="1.9"/><circle cx="293.1" cy="224.7" r="1.9"/><circle cx="203.9" cy="216.1" r="1.9"/><circle cx="0.3" cy="197.3" r="1.9"/><circle cx="281.1" cy="235.7" r="1.9"/><circle cx="304.9" cy="232.6" r="1.9"/><circle cx="466.8" cy="256.5" r="1.9"/><circle cx="196.8" cy="209.3" r="1.9"/><circle cx="291.3" cy="238.2" r="1.9"/><circle cx="15.7" cy="214.2" r="1.9"/><circle cx="461.6" cy="258.9" r="1.9"/><circle cx="352.7" cy="245.6" r="1.9"/><circle cx="9.3" cy="200.2" r="1.9"/><circle cx="213.4" cy="230.2" r="1.9"/><circle cx="233.7" cy="236.5" r="1.9"/><circle cx="278.7" cy="230.8" r="1.9"/><circle cx="404.8" cy="263.0" r="1.9"/><circle cx="137.8" cy="199.1" r="1.9"/><circle cx="379.1" cy="247.2" r="1.9"/><circle cx="137.6" cy="213.1" r="1.9"/><circle cx="79.2" cy="218.6" r="1.9"/><circle cx="326.0" cy="235.4" r="1.9"/><circle cx="277.3" cy="222.3" r="1.9"/><circle cx="22.1" cy="224.9" r="1.9"/><circle cx="298.3" cy="236.9" r="1.9"/><circle cx="256.6" cy="238.4" r="1.9"/><circle cx="216.0" cy="217.5" r="1.9"/><circle cx="113.1" cy="191.3" r="1.9"/><circle cx="218.7" cy="213.6" r="1.9"/><circle cx="377.7" cy="253.9" r="1.9"/><circle cx="250.5" cy="239.2" r="1.9"/><circle cx="152.7" cy="215.4" r="1.9"/><circle cx="44.8" cy="222.6" r="1.9"/><circle cx="368.6" cy="241.3" r="1.9"/><circle cx="113.9" cy="217.5" r="1.9"/><circle cx="24.0" cy="201.0" r="1.9"/><circle cx="48.3" cy="253.4" r="1.9"/><circle cx="16.6" cy="218.0" r="1.9"/><circle cx="66.2" cy="229.4" r="1.9"/><circle cx="179.1" cy="208.1" r="1.9"/><circle cx="494.1" cy="257.4" r="1.9"/><circle cx="348.9" cy="236.7" r="1.9"/><circle cx="389.9" cy="245.6" r="1.9"/><circle cx="329.1" cy="229.7" r="1.9"/><circle cx="446.3" cy="250.9" r="1.9"/><circle cx="182.0" cy="195.3" r="1.9"/><circle cx="95.9" cy="213.9" r="1.9"/><circle cx="34.2" cy="209.8" r="1.9"/><circle cx="62.2" cy="244.7" r="1.9"/><circle cx="65.3" cy="230.3" r="1.9"/><circle cx="5.0" cy="240.4" r="1.9"/><circle cx="163.5" cy="223.1" r="1.9"/><circle cx="285.9" cy="215.5" r="1.9"/></g>
<rect x="259.5" y="170.5" width="60" height="116.5" fill="none" stroke="#333" stroke-width="1"/>
<path d="M259.5 170.5L306.5 35.5M319.5 287L451 110.5" stroke="#222" stroke-width="1" fill="none"/>
<rect x="306.5" y="35.5" width="144.5" height="75" fill="#fdf3f1" stroke="#333" stroke-width="1"/>
<defs><clipPath id="ic"><rect x="307" y="36" width="143.5" height="74"/></clipPath></defs><g clip-path="url(#ic)">
<path d="M307.5 83.5V91.5M306.7 83.5h1.6M308.0 78.7V86.7M307.2 78.7h1.6M308.5 71.1V79.1M307.7 71.1h1.6M309.1 72.2V80.2M308.3 72.2h1.6M309.9 66.5V74.5M309.1 66.5h1.6M310.4 69.8V77.8M309.6 69.8h1.6M311.1 64.1V72.1M310.3 64.1h1.6M312.1 64.9V72.9M311.3 64.9h1.6M312.9 63.4V71.4M312.1 63.4h1.6M313.6 61.0V69.0M312.8 61.0h1.6M314.3 59.1V67.1M313.5 59.1h1.6M314.8 60.6V68.6M314.0 60.6h1.6M315.6 66.3V74.3M314.8 66.3h1.6M316.2 66.0V74.0M315.4 66.0h1.6M316.6 72.9V80.9M315.8 72.9h1.6M317.5 63.0V71.0M316.7 63.0h1.6M318.0 62.3V70.3M317.2 62.3h1.6M318.7 51.7V59.7M317.9 51.7h1.6M319.3 57.3V65.3M318.5 57.3h1.6M319.9 64.8V72.8M319.1 64.8h1.6M320.9 68.7V76.7M320.1 68.7h1.6M321.9 81.1V89.1M321.1 81.1h1.6M322.4 73.3V81.3M321.6 73.3h1.6M323.3 73.8V81.8M322.5 73.8h1.6M324.3 76.7V84.7M323.5 76.7h1.6M325.1 83.0V91.0M324.3 83.0h1.6M325.5 79.0V87.0M324.7 79.0h1.6M326.5 87.5V95.5M325.7 87.5h1.6M327.2 90.7V98.7M326.4 90.7h1.6M327.8 84.3V92.3M327.0 84.3h1.6M328.2 92.2V100.2M327.4 92.2h1.6M329.0 96.1V104.1M328.2 96.1h1.6M329.8 91.7V99.7M329.0 91.7h1.6M330.6 87.7V95.7M329.8 87.7h1.6M331.6 81.6V89.6M330.8 81.6h1.6M332.2 74.5V82.5M331.4 74.5h1.6M333.0 73.6V81.6M332.2 73.6h1.6M333.9 64.4V72.4M333.1 64.4h1.6M334.6 58.6V66.6M333.8 58.6h1.6M335.3 65.6V73.6M334.5 65.6h1.6M336.3 80.0V88.0M335.5 80.0h1.6M337.2 82.3V90.3M336.4 82.3h1.6M338.1 75.2V83.2M337.3 75.2h1.6M338.6 73.3V81.3M337.8 73.3h1.6M339.6 64.8V72.8M338.8 64.8h1.6M340.5 71.3V79.3M339.7 71.3h1.6M341.4 68.0V76.0M340.6 68.0h1.6M342.0 69.1V77.1M341.2 69.1h1.6M342.9 74.1V82.1M342.1 74.1h1.6M343.8 62.3V70.3M343.0 62.3h1.6M344.3 48.0V56.0M343.5 48.0h1.6M344.8 43.2V51.2M344.0 43.2h1.6M345.4 38.6V46.6M344.6 38.6h1.6M345.9 39.0V47.0M345.1 39.0h1.6M346.4 41.3V49.3M345.6 41.3h1.6M347.3 37.1V45.1M346.5 37.1h1.6M347.9 48.6V56.6M347.1 48.6h1.6M348.5 45.9V53.9M347.7 45.9h1.6M349.1 51.3V59.3M348.3 51.3h1.6M349.8 62.3V70.3M349.0 62.3h1.6M350.4 63.0V71.0M349.6 63.0h1.6M350.8 70.5V78.5M350.0 70.5h1.6M351.3 71.1V79.1M350.5 71.1h1.6M351.8 77.0V85.0M351.0 77.0h1.6M352.5 77.2V85.2M351.7 77.2h1.6M353.2 75.5V83.5M352.4 75.5h1.6M354.2 80.3V88.3M353.4 80.3h1.6M354.8 85.9V93.9M354.0 85.9h1.6M355.3 78.1V86.1M354.5 78.1h1.6M356.2 82.9V90.9M355.4 82.9h1.6M357.1 77.0V85.0M356.3 77.0h1.6M357.9 69.0V77.0M357.1 69.0h1.6M358.4 74.6V82.6M357.6 74.6h1.6M359.1 79.1V87.1M358.3 79.1h1.6M359.6 85.0V93.0M358.8 85.0h1.6M360.5 75.4V83.4M359.7 75.4h1.6M361.2 74.6V82.6M360.4 74.6h1.6M362.0 79.4V87.4M361.2 79.4h1.6M362.7 67.2V75.2M361.9 67.2h1.6M363.3 74.2V82.2M362.5 74.2h1.6M363.8 72.8V80.8M363.0 72.8h1.6M364.4 76.1V84.1M363.6 76.1h1.6M365.2 75.7V83.7M364.4 75.7h1.6M366.0 94.4V102.4M365.2 94.4h1.6M366.6 84.4V92.4M365.8 84.4h1.6M367.3 84.6V92.6M366.5 84.6h1.6M367.8 79.7V87.7M367.0 79.7h1.6M368.6 81.0V89.0M367.8 81.0h1.6M369.4 74.8V82.8M368.6 74.8h1.6M370.3 74.1V82.1M369.5 74.1h1.6M371.0 69.0V77.0M370.2 69.0h1.6M371.6 74.5V82.5M370.8 74.5h1.6M372.3 54.7V62.7M371.5 54.7h1.6M373.1 51.9V59.9M372.3 51.9h1.6M374.1 54.4V62.4M373.3 54.4h1.6M374.6 60.8V68.8M373.8 60.8h1.6M375.0 60.2V68.2M374.2 60.2h1.6M375.7 52.9V60.9M374.9 52.9h1.6M376.4 67.4V75.4M375.6 67.4h1.6M377.3 68.3V76.3M376.5 68.3h1.6M377.8 65.6V73.6M377.0 65.6h1.6M378.4 70.0V78.0M377.6 70.0h1.6M379.2 78.4V86.4M378.4 78.4h1.6M379.9 80.3V88.3M379.1 80.3h1.6M380.9 84.3V92.3M380.1 84.3h1.6M381.4 78.0V86.0M380.6 78.0h1.6M381.9 77.2V85.2M381.1 77.2h1.6M382.3 69.4V77.4M381.5 69.4h1.6M383.1 76.2V84.2M382.3 76.2h1.6M384.1 76.0V84.0M383.3 76.0h1.6M384.9 70.0V78.0M384.1 70.0h1.6M385.3 72.1V80.1M384.5 72.1h1.6M386.0 76.3V84.3M385.2 76.3h1.6M386.5 71.5V79.5M385.7 71.5h1.6M387.2 73.6V81.6M386.4 73.6h1.6M387.8 77.1V85.1M387.0 77.1h1.6M388.7 73.3V81.3M387.9 73.3h1.6M389.5 71.2V79.2M388.7 71.2h1.6M390.4 68.0V76.0M389.6 68.0h1.6M391.4 63.8V71.8M390.6 63.8h1.6M392.3 64.5V72.5M391.5 64.5h1.6M393.1 65.9V73.9M392.3 65.9h1.6M394.0 76.7V84.7M393.2 76.7h1.6M394.9 68.6V76.6M394.1 68.6h1.6M395.6 72.8V80.8M394.8 72.8h1.6M396.1 68.3V76.3M395.3 68.3h1.6M396.7 62.8V70.8M395.9 62.8h1.6M397.5 71.3V79.3M396.7 71.3h1.6M398.4 67.1V75.1M397.6 67.1h1.6M399.1 73.6V81.6M398.3 73.6h1.6M399.8 76.1V84.1M399.0 76.1h1.6M400.6 80.5V88.5M399.8 80.5h1.6M401.3 79.5V87.5M400.5 79.5h1.6M402.0 84.7V92.7M401.2 84.7h1.6M402.8 77.5V85.5M402.0 77.5h1.6M403.8 75.7V83.7M403.0 75.7h1.6M404.7 70.3V78.3M403.9 70.3h1.6M405.2 69.7V77.7M404.4 69.7h1.6M406.0 67.5V75.5M405.2 67.5h1.6M406.8 67.5V75.5M406.0 67.5h1.6M407.4 73.6V81.6M406.6 73.6h1.6M408.2 72.7V80.7M407.4 72.7h1.6M408.8 81.6V89.6M408.0 81.6h1.6M409.5 94.9V102.9M408.7 94.9h1.6M410.5 87.5V95.5M409.7 87.5h1.6M411.1 81.8V89.8M410.3 81.8h1.6M411.7 80.4V88.4M410.9 80.4h1.6M412.6 76.3V84.3M411.8 76.3h1.6M413.4 75.4V83.4M412.6 75.4h1.6M414.4 75.1V83.1M413.6 75.1h1.6M415.1 73.4V81.4M414.3 73.4h1.6M416.0 77.5V85.5M415.2 77.5h1.6M416.7 80.4V88.4M415.9 80.4h1.6M417.4 75.6V83.6M416.6 75.6h1.6M418.0 73.1V81.1M417.2 73.1h1.6M418.5 75.0V83.0M417.7 75.0h1.6M419.3 74.1V82.1M418.5 74.1h1.6M420.1 75.3V83.3M419.3 75.3h1.6M420.8 72.8V80.8M420.0 72.8h1.6M421.3 69.6V77.6M420.5 69.6h1.6M421.8 59.2V67.2M421.0 59.2h1.6M422.7 62.8V70.8M421.9 62.8h1.6M423.1 59.0V67.0M422.3 59.0h1.6M424.1 64.6V72.6M423.3 64.6h1.6M424.9 64.7V72.7M424.1 64.7h1.6M425.8 64.0V72.0M425.0 64.0h1.6M426.8 64.5V72.5M426.0 64.5h1.6M427.4 73.7V81.7M426.6 73.7h1.6M428.0 63.2V71.2M427.2 63.2h1.6M428.8 67.7V75.7M428.0 67.7h1.6M429.5 64.5V72.5M428.7 64.5h1.6M430.1 70.9V78.9M429.3 70.9h1.6M430.6 75.1V83.1M429.8 75.1h1.6M431.5 72.3V80.3M430.7 72.3h1.6M432.3 68.2V76.2M431.5 68.2h1.6M433.1 73.8V81.8M432.3 73.8h1.6M434.0 73.2V81.2M433.2 73.2h1.6M434.5 71.9V79.9M433.7 71.9h1.6M435.4 72.1V80.1M434.6 72.1h1.6M436.1 71.9V79.9M435.3 71.9h1.6M436.6 69.7V77.7M435.8 69.7h1.6M437.2 73.7V81.7M436.4 73.7h1.6M437.6 71.2V79.2M436.8 71.2h1.6M438.5 77.1V85.1M437.7 77.1h1.6M438.9 75.4V83.4M438.1 75.4h1.6M439.5 68.6V76.6M438.7 68.6h1.6M440.1 65.9V73.9M439.3 65.9h1.6M440.8 74.7V82.7M440.0 74.7h1.6M441.3 72.0V80.0M440.5 72.0h1.6M442.2 69.6V77.6M441.4 69.6h1.6M442.9 65.0V73.0M442.1 65.0h1.6M443.7 73.4V81.4M442.9 73.4h1.6M444.3 73.5V81.5M443.5 73.5h1.6M444.9 70.8V78.8M444.1 70.8h1.6M445.5 68.6V76.6M444.7 68.6h1.6M446.0 74.5V82.5M445.2 74.5h1.6M446.7 71.6V79.6M445.9 71.6h1.6M447.4 86.4V94.4M446.6 86.4h1.6M448.0 79.2V87.2M447.2 79.2h1.6M448.8 88.6V96.6M448.0 88.6h1.6M449.3 87.5V95.5M448.5 87.5h1.6M449.8 85.9V93.9M449.0 85.9h1.6M450.3 92.4V100.4M449.5 92.4h1.6" stroke="#444" stroke-width="0.8" fill="none"/>
<g fill="#cc2820" stroke="#7a1410" stroke-width="0.45"><circle cx="420.1" cy="79.3" r="1.7"/><circle cx="362.0" cy="83.4" r="1.7"/><circle cx="379.9" cy="84.3" r="1.7"/><circle cx="309.1" cy="76.2" r="1.7"/><circle cx="308.5" cy="75.1" r="1.7"/><circle cx="367.8" cy="83.7" r="1.7"/><circle cx="446.7" cy="75.6" r="1.7"/><circle cx="357.9" cy="73.0" r="1.7"/><circle cx="347.3" cy="41.1" r="1.7"/><circle cx="438.9" cy="79.4" r="1.7"/><circle cx="450.3" cy="96.4" r="1.7"/><circle cx="386.0" cy="80.3" r="1.7"/><circle cx="318.0" cy="66.3" r="1.7"/><circle cx="407.4" cy="77.6" r="1.7"/><circle cx="449.3" cy="91.5" r="1.7"/><circle cx="402.8" cy="81.5" r="1.7"/><circle cx="333.0" cy="77.6" r="1.7"/><circle cx="441.3" cy="76.0" r="1.7"/><circle cx="356.2" cy="86.9" r="1.7"/><circle cx="333.9" cy="68.4" r="1.7"/><circle cx="389.5" cy="75.2" r="1.7"/><circle cx="386.5" cy="75.5" r="1.7"/><circle cx="345.9" cy="43.0" r="1.7"/><circle cx="404.7" cy="74.3" r="1.7"/><circle cx="371.6" cy="78.5" r="1.7"/><circle cx="364.4" cy="80.1" r="1.7"/><circle cx="338.1" cy="79.2" r="1.7"/><circle cx="378.4" cy="74.0" r="1.7"/><circle cx="316.2" cy="70.0" r="1.7"/><circle cx="383.1" cy="80.2" r="1.7"/><circle cx="354.2" cy="84.3" r="1.7"/><circle cx="363.8" cy="76.8" r="1.7"/><circle cx="330.6" cy="91.7" r="1.7"/><circle cx="307.5" cy="87.5" r="1.7"/><circle cx="429.5" cy="68.5" r="1.7"/><circle cx="316.6" cy="76.9" r="1.7"/><circle cx="324.3" cy="80.7" r="1.7"/><circle cx="443.7" cy="77.4" r="1.7"/><circle cx="343.8" cy="66.3" r="1.7"/><circle cx="413.4" cy="79.4" r="1.7"/><circle cx="396.7" cy="66.8" r="1.7"/><circle cx="417.4" cy="79.6" r="1.7"/><circle cx="411.7" cy="84.4" r="1.7"/><circle cx="408.2" cy="76.7" r="1.7"/><circle cx="402.0" cy="88.7" r="1.7"/><circle cx="433.1" cy="77.8" r="1.7"/><circle cx="403.8" cy="79.7" r="1.7"/><circle cx="315.6" cy="70.3" r="1.7"/><circle cx="359.6" cy="89.0" r="1.7"/><circle cx="392.3" cy="68.5" r="1.7"/><circle cx="435.4" cy="76.1" r="1.7"/><circle cx="325.1" cy="87.0" r="1.7"/><circle cx="361.2" cy="78.6" r="1.7"/><circle cx="360.5" cy="79.4" r="1.7"/><circle cx="406.8" cy="71.5" r="1.7"/><circle cx="448.8" cy="92.6" r="1.7"/><circle cx="374.1" cy="58.4" r="1.7"/><circle cx="436.1" cy="75.9" r="1.7"/><circle cx="371.0" cy="73.0" r="1.7"/><circle cx="414.4" cy="79.1" r="1.7"/><circle cx="437.6" cy="75.2" r="1.7"/><circle cx="340.5" cy="75.3" r="1.7"/><circle cx="350.4" cy="67.0" r="1.7"/><circle cx="349.1" cy="55.3" r="1.7"/><circle cx="425.8" cy="68.0" r="1.7"/><circle cx="372.3" cy="58.7" r="1.7"/><circle cx="349.8" cy="66.3" r="1.7"/><circle cx="434.0" cy="77.2" r="1.7"/><circle cx="331.6" cy="85.6" r="1.7"/><circle cx="406.0" cy="71.5" r="1.7"/><circle cx="449.8" cy="89.9" r="1.7"/><circle cx="342.0" cy="73.1" r="1.7"/><circle cx="432.3" cy="72.2" r="1.7"/><circle cx="416.0" cy="81.5" r="1.7"/><circle cx="434.5" cy="75.9" r="1.7"/><circle cx="365.2" cy="79.7" r="1.7"/><circle cx="351.3" cy="75.1" r="1.7"/><circle cx="399.8" cy="80.1" r="1.7"/><circle cx="447.4" cy="90.4" r="1.7"/><circle cx="317.5" cy="67.0" r="1.7"/><circle cx="327.2" cy="94.7" r="1.7"/><circle cx="445.5" cy="72.6" r="1.7"/><circle cx="337.2" cy="86.3" r="1.7"/><circle cx="426.8" cy="68.5" r="1.7"/><circle cx="319.3" cy="61.3" r="1.7"/><circle cx="416.7" cy="84.4" r="1.7"/><circle cx="341.4" cy="72.0" r="1.7"/><circle cx="387.8" cy="81.1" r="1.7"/><circle cx="354.8" cy="89.9" r="1.7"/><circle cx="319.9" cy="68.8" r="1.7"/><circle cx="342.9" cy="78.1" r="1.7"/><circle cx="314.8" cy="64.6" r="1.7"/><circle cx="369.4" cy="78.8" r="1.7"/><circle cx="390.4" cy="72.0" r="1.7"/><circle cx="367.3" cy="88.6" r="1.7"/><circle cx="418.5" cy="79.0" r="1.7"/><circle cx="312.9" cy="67.4" r="1.7"/><circle cx="395.6" cy="76.8" r="1.7"/><circle cx="421.8" cy="63.2" r="1.7"/><circle cx="313.6" cy="65.0" r="1.7"/><circle cx="379.2" cy="82.4" r="1.7"/></g>
<polyline points="307.0,86.5 307.8,79.8 308.6,78.1 309.4,71.9 310.2,73.7 311.0,70.2 311.8,68.7 312.6,69.1 313.4,67.3 314.2,65.5 315.0,66.1 315.8,67.2 316.6,70.7 317.4,68.7 318.2,64.3 319.0,56.3 319.8,66.0 320.6,73.9 321.4,73.4 322.2,75.7 323.0,79.5 323.8,82.1 324.6,83.0 325.4,87.3 326.2,87.8 327.0,94.0 327.8,92.8 328.6,95.4 329.4,95.0 330.2,90.5 331.0,87.7 331.8,82.9 332.6,80.1 333.4,74.4 334.2,66.9 335.0,62.9 335.8,74.2 336.6,76.2 337.4,81.0 338.2,81.9 339.0,75.6 339.8,71.5 340.6,73.3 341.4,78.3 342.2,74.7 343.0,74.9 343.8,63.0 344.6,54.0 345.4,44.4 346.2,41.6 347.0,43.3 347.8,46.0 348.6,52.0 349.4,55.5 350.2,67.6 351.0,75.3 351.8,76.4 352.6,79.4 353.4,81.1 354.2,82.6 355.0,83.8 355.8,82.7 356.6,80.9 357.4,82.2 358.2,78.4 359.0,83.5 359.8,83.1 360.6,83.7 361.4,80.2 362.2,75.1 363.0,75.8 363.8,76.8 364.6,81.8 365.4,88.2 366.2,91.8 367.0,90.3 367.8,88.6 368.6,82.3 369.4,84.4 370.2,79.9 371.0,72.0 371.8,65.5 372.6,59.5 373.4,56.8 374.2,56.9 375.0,61.6 375.8,63.2 376.6,69.7 377.4,71.4 378.2,75.2 379.0,79.7 379.8,84.4 380.6,86.2 381.4,82.2 382.2,79.5 383.0,76.5 383.8,77.3 384.6,78.7 385.4,79.5 386.2,80.4 387.0,80.5 387.8,79.4 388.6,76.3 389.4,73.2 390.2,70.0 391.0,66.3 391.8,69.2 392.6,73.2 393.4,67.7 394.2,73.7 395.0,71.5 395.8,73.6 396.6,73.3 397.4,70.9 398.2,75.7 399.0,75.2 399.8,80.7 400.6,88.4 401.4,94.1 402.2,89.7 403.0,85.1 403.8,74.1 404.6,74.2 405.4,70.7 406.2,75.7 407.0,73.7 407.8,80.5 408.6,86.8 409.4,91.5 410.2,94.0 411.0,88.9 411.8,82.1 412.6,77.9 413.4,74.9 414.2,77.8 415.0,76.3 415.8,78.5 416.6,76.7 417.4,79.0 418.2,76.0 419.0,75.9 419.8,75.2 420.6,72.3 421.4,70.4 422.2,69.4 423.0,62.9 423.8,62.8 424.6,71.5 425.4,75.7 426.2,71.6 427.0,75.9 427.8,75.3 428.6,74.0 429.4,72.3 430.2,79.0 431.0,74.9 431.8,71.9 432.6,74.6 433.4,73.9 434.2,71.9 435.0,78.0 435.8,75.5 436.6,75.5 437.4,76.9 438.2,80.7 439.0,80.9 439.8,76.0 440.6,74.5 441.4,77.6 442.2,78.1 443.0,73.8 443.8,73.0 444.6,76.3 445.4,76.4 446.2,76.3 447.0,81.0 447.8,85.3 448.6,90.3 449.4,94.8 450.2,96.6" fill="none" stroke="#2626cc" stroke-width="2.0" stroke-linejoin="round"/>
<g fill="#cc2820" stroke="#7a1410" stroke-width="0.45"><circle cx="345.4" cy="42.6" r="1.7"/><circle cx="355.3" cy="82.1" r="1.7"/><circle cx="418.0" cy="77.1" r="1.7"/><circle cx="385.3" cy="76.1" r="1.7"/><circle cx="410.5" cy="91.5" r="1.7"/><circle cx="393.1" cy="69.9" r="1.7"/><circle cx="328.2" cy="96.2" r="1.7"/><circle cx="409.5" cy="98.9" r="1.7"/><circle cx="314.3" cy="63.1" r="1.7"/><circle cx="442.9" cy="69.0" r="1.7"/><circle cx="334.6" cy="62.6" r="1.7"/><circle cx="431.5" cy="76.3" r="1.7"/><circle cx="312.1" cy="68.9" r="1.7"/><circle cx="320.9" cy="72.7" r="1.7"/><circle cx="380.9" cy="88.3" r="1.7"/><circle cx="427.4" cy="77.7" r="1.7"/><circle cx="444.9" cy="74.8" r="1.7"/><circle cx="325.5" cy="83.0" r="1.7"/><circle cx="430.6" cy="79.1" r="1.7"/><circle cx="358.4" cy="78.6" r="1.7"/><circle cx="396.1" cy="72.3" r="1.7"/><circle cx="428.8" cy="71.7" r="1.7"/><circle cx="446.0" cy="78.5" r="1.7"/><circle cx="411.1" cy="85.8" r="1.7"/><circle cx="351.8" cy="81.0" r="1.7"/><circle cx="336.3" cy="84.0" r="1.7"/><circle cx="376.4" cy="71.4" r="1.7"/><circle cx="352.5" cy="81.2" r="1.7"/><circle cx="366.6" cy="88.4" r="1.7"/><circle cx="422.7" cy="66.8" r="1.7"/><circle cx="399.1" cy="77.6" r="1.7"/><circle cx="350.8" cy="74.5" r="1.7"/><circle cx="338.6" cy="77.3" r="1.7"/><circle cx="382.3" cy="73.4" r="1.7"/><circle cx="370.3" cy="78.1" r="1.7"/><circle cx="420.8" cy="76.8" r="1.7"/><circle cx="437.2" cy="77.7" r="1.7"/><circle cx="327.8" cy="88.3" r="1.7"/><circle cx="401.3" cy="83.5" r="1.7"/><circle cx="440.8" cy="78.7" r="1.7"/><circle cx="318.7" cy="55.7" r="1.7"/><circle cx="348.5" cy="49.9" r="1.7"/><circle cx="326.5" cy="91.5" r="1.7"/><circle cx="377.3" cy="72.3" r="1.7"/><circle cx="373.1" cy="55.9" r="1.7"/><circle cx="384.9" cy="74.0" r="1.7"/><circle cx="388.7" cy="77.3" r="1.7"/><circle cx="412.6" cy="80.3" r="1.7"/><circle cx="430.1" cy="74.9" r="1.7"/><circle cx="381.9" cy="81.2" r="1.7"/><circle cx="344.8" cy="47.2" r="1.7"/><circle cx="448.0" cy="83.2" r="1.7"/><circle cx="363.3" cy="78.2" r="1.7"/><circle cx="347.9" cy="52.6" r="1.7"/><circle cx="322.4" cy="77.3" r="1.7"/><circle cx="323.3" cy="77.8" r="1.7"/><circle cx="344.3" cy="52.0" r="1.7"/><circle cx="444.3" cy="77.5" r="1.7"/><circle cx="436.6" cy="73.7" r="1.7"/><circle cx="310.4" cy="73.8" r="1.7"/><circle cx="384.1" cy="80.0" r="1.7"/><circle cx="346.4" cy="45.3" r="1.7"/><circle cx="374.6" cy="64.8" r="1.7"/><circle cx="397.5" cy="75.3" r="1.7"/><circle cx="405.2" cy="73.7" r="1.7"/><circle cx="357.1" cy="81.0" r="1.7"/><circle cx="311.1" cy="68.1" r="1.7"/><circle cx="440.1" cy="69.9" r="1.7"/><circle cx="309.9" cy="70.5" r="1.7"/><circle cx="398.4" cy="71.1" r="1.7"/><circle cx="424.1" cy="68.6" r="1.7"/><circle cx="353.2" cy="79.5" r="1.7"/><circle cx="339.6" cy="68.8" r="1.7"/><circle cx="332.2" cy="78.5" r="1.7"/><circle cx="421.3" cy="73.6" r="1.7"/><circle cx="419.3" cy="78.1" r="1.7"/><circle cx="394.0" cy="80.7" r="1.7"/><circle cx="415.1" cy="77.4" r="1.7"/><circle cx="438.5" cy="81.1" r="1.7"/><circle cx="391.4" cy="67.8" r="1.7"/><circle cx="387.2" cy="77.6" r="1.7"/><circle cx="366.0" cy="98.4" r="1.7"/><circle cx="359.1" cy="83.1" r="1.7"/><circle cx="329.8" cy="95.7" r="1.7"/><circle cx="400.6" cy="84.5" r="1.7"/><circle cx="381.4" cy="82.0" r="1.7"/><circle cx="362.7" cy="71.2" r="1.7"/><circle cx="335.3" cy="69.6" r="1.7"/><circle cx="428.0" cy="67.2" r="1.7"/><circle cx="377.8" cy="69.6" r="1.7"/><circle cx="321.9" cy="85.1" r="1.7"/><circle cx="442.2" cy="73.6" r="1.7"/><circle cx="439.5" cy="72.6" r="1.7"/><circle cx="423.1" cy="63.0" r="1.7"/><circle cx="408.8" cy="85.6" r="1.7"/><circle cx="329.0" cy="100.1" r="1.7"/><circle cx="424.9" cy="68.7" r="1.7"/><circle cx="375.0" cy="64.2" r="1.7"/><circle cx="368.6" cy="85.0" r="1.7"/><circle cx="375.7" cy="56.9" r="1.7"/><circle cx="394.9" cy="72.6" r="1.7"/><circle cx="308.0" cy="82.7" r="1.7"/></g>
</g>
<text x="317.2" y="32.4" font-family="Liberation Sans, sans-serif" font-size="11.5" fill="#222" stroke="#222" stroke-width="0.25" textLength="126.5" lengthAdjust="spacingAndGlyphs">Absorption line system</text>
<path d="M0 11.8H500M0 331H500" stroke="#000" stroke-width="2"/>
<path d="M13.3 11.8V22.8M13.3 331V320M72.5 11.8V17.8M72.5 331V325M122.5 11.8V17.8M122.5 331V325M165.9 11.8V17.8M165.9 331V325M204.1 11.8V17.8M204.1 331V325M238.3 11.8V22.8M238.3 331V320M269.2 11.8V17.8M269.2 331V325M297.5 11.8V17.8M297.5 331V325M323.5 11.8V17.8M323.5 331V325M347.5 11.8V17.8M347.5 331V325M369.9 11.8V22.8M369.9 331V320M390.9 11.8V17.8M390.9 331V325M410.5 11.8V17.8M410.5 331V325M429.1 11.8V17.8M429.1 331V325M446.6 11.8V17.8M446.6 331V325M463.3 11.8V22.8M463.3 331V320M479.1 11.8V17.8M479.1 331V325M494.2 11.8V17.8M494.2 331V325" stroke="#000" stroke-width="1.8"/>
<text x="2.4" y="348" font-family="Liberation Sans, sans-serif" font-weight="bold" font-size="15" fill="#111" textLength="21.6" lengthAdjust="spacingAndGlyphs">0.5</text>
<text x="228" y="348" font-family="Liberation Sans, sans-serif" font-weight="bold" font-size="15" fill="#111" textLength="21.6" lengthAdjust="spacingAndGlyphs">1.0</text>
<text x="359.8" y="348" font-family="Liberation Sans, sans-serif" font-weight="bold" font-size="15" fill="#111" textLength="21.2" lengthAdjust="spacingAndGlyphs">1.5</text>
<text x="452" y="348" font-family="Liberation Sans, sans-serif" font-weight="bold" font-size="15" fill="#111" textLength="22.4" lengthAdjust="spacingAndGlyphs">2.0</text>
<text x="226.2" y="366" font-family="Liberation Sans, sans-serif" font-weight="bold" font-size="14" fill="#111" textLength="96" lengthAdjust="spacingAndGlyphs">Energy (keV)</text>
<path d="M30.6 296V276.40000000000003M27.3 280.50000000000006L30.6 274.90000000000003L33.9 280.50000000000006" stroke="#000" stroke-width="1.9" fill="none" stroke-linejoin="miter"/><path d="M28.8 278.26000000000005L30.6 273.6L32.4 278.26000000000005Z" fill="#000"/>
<path d="M114.3 280V262.1M111.0 266.20000000000005L114.3 260.6L117.6 266.20000000000005" stroke="#000" stroke-width="1.9" fill="none" stroke-linejoin="miter"/><path d="M112.5 263.96000000000004L114.3 259.3L116.1 263.96000000000004Z" fill="#000"/>
<path d="M157.6 274V265.3M154.29999999999998 269.40000000000003L157.6 263.8L160.9 269.40000000000003" stroke="#000" stroke-width="1.9" fill="none" stroke-linejoin="miter"/><path d="M155.79999999999998 267.16L157.6 262.5L159.4 267.16Z" fill="#000"/>
<path d="M127.7 145.6V164.79999999999998M124.4 160.7L127.7 166.29999999999998L131.0 160.7" stroke="#000" stroke-width="1.9" fill="none" stroke-linejoin="miter"/><path d="M125.9 162.93999999999997L127.7 167.6L129.5 162.93999999999997Z" fill="#000"/>
<path d="M225.5 133.1V144.1M222.2 140.0L225.5 145.6L228.8 140.0" stroke="#000" stroke-width="1.9" fill="none" stroke-linejoin="miter"/><path d="M223.7 142.23999999999998L225.5 146.9L227.3 142.23999999999998Z" fill="#000"/>
<path d="M240.3 106V117.60000000000001M237.0 113.50000000000001L240.3 119.10000000000001L243.60000000000002 113.50000000000001" stroke="#000" stroke-width="1.9" fill="none" stroke-linejoin="miter"/><path d="M238.5 115.74000000000001L240.3 120.4L242.10000000000002 115.74000000000001Z" fill="#000"/>
<path d="M254.9 99.6V111.2M251.6 107.10000000000001L254.9 112.7L258.2 107.10000000000001" stroke="#000" stroke-width="1.9" fill="none" stroke-linejoin="miter"/><path d="M253.1 109.34L254.9 114L256.7 109.34Z" fill="#000"/>
<path d="M362.5 164.1V174.39999999999998M359.2 170.29999999999998L362.5 175.89999999999998L365.8 170.29999999999998" stroke="#000" stroke-width="1.9" fill="none" stroke-linejoin="miter"/><path d="M360.7 172.53999999999996L362.5 177.2L364.3 172.53999999999996Z" fill="#000"/>
<path d="M438.9 193.6V204.7M435.59999999999997 200.6L438.9 206.2L442.2 200.6" stroke="#000" stroke-width="1.9" fill="none" stroke-linejoin="miter"/><path d="M437.09999999999997 202.83999999999997L438.9 207.5L440.7 202.83999999999997Z" fill="#000"/>
<path d="M462.3 169.3V180.2M459.0 176.1L462.3 181.7L465.6 176.1" stroke="#000" stroke-width="1.9" fill="none" stroke-linejoin="miter"/><path d="M460.5 178.33999999999997L462.3 183L464.1 178.33999999999997Z" fill="#000"/>
<path d="M90.3 64.3L98 69.5M93.2 70.3L99.3 70.3L96.8 64.9" stroke="#000" stroke-width="1.8" fill="none" stroke-linejoin="miter"/><path d="M95.5 68.8L99.4 70.3L96.9 67.2Z" fill="#000"/>
<text transform="translate(87.9,81.3) rotate(-90)" font-family="Liberation Sans, sans-serif" font-size="15.5" fill="#000" stroke="#000" stroke-width="0.35" textLength="36.7" lengthAdjust="spacingAndGlyphs">O VIII</text>
<text transform="translate(131.8,141.6) rotate(-90)" font-family="Liberation Sans, sans-serif" font-size="15.5" fill="#201c98" stroke="#201c98" stroke-width="0.35" textLength="69" lengthAdjust="spacingAndGlyphs">Fe L edge</text>
<text transform="translate(231.1,127.3) rotate(-90)" font-family="Liberation Sans, sans-serif" font-size="15.5" fill="#000" stroke="#000" stroke-width="0.35" textLength="36.8" lengthAdjust="spacingAndGlyphs">Ne IX</text>
<text transform="translate(245.8,101.5) rotate(-90)" font-family="Liberation Sans, sans-serif" font-size="15.5" fill="#000" stroke="#000" stroke-width="0.35" textLength="33.6" lengthAdjust="spacingAndGlyphs">Ne X</text>
<text transform="translate(260.0,96) rotate(-90)" font-family="Liberation Sans, sans-serif" font-size="15.5" fill="#000" stroke="#000" stroke-width="0.35" textLength="51" lengthAdjust="spacingAndGlyphs">Fe XX+</text>
<text transform="translate(367.2,159.5) rotate(-90)" font-family="Liberation Sans, sans-serif" font-size="15.5" fill="#000" stroke="#000" stroke-width="0.35" textLength="45" lengthAdjust="spacingAndGlyphs">Mg XII</text>
<text transform="translate(445.1,188.8) rotate(-90)" font-family="Liberation Sans, sans-serif" font-size="15.5" fill="#000" stroke="#000" stroke-width="0.35" textLength="38.4" lengthAdjust="spacingAndGlyphs">Si XIII</text>
<text transform="translate(467.3,165.3) rotate(-90)" font-family="Liberation Sans, sans-serif" font-size="15.5" fill="#000" stroke="#000" stroke-width="0.35" textLength="40" lengthAdjust="spacingAndGlyphs">Si XIV</text>
<text transform="translate(119.2,318.2) rotate(-90)" font-family="Liberation Sans, sans-serif" font-size="15.5" fill="#201c98" stroke="#201c98" stroke-width="0.35" textLength="34" lengthAdjust="spacingAndGlyphs">O VII</text>
<text transform="translate(162.4,325.4) rotate(-90)" font-family="Liberation Sans, sans-serif" font-size="15.5" fill="#201c98" stroke="#201c98" stroke-width="0.35" textLength="47" lengthAdjust="spacingAndGlyphs">Fe XVII</text>
<text x="-2.4" y="308.8" font-family="Liberation Sans, sans-serif" font-size="15" fill="#201c98" stroke="#201c98" stroke-width="0.35" textLength="65" lengthAdjust="spacingAndGlyphs">O K edge</text>
</svg></body></html>
